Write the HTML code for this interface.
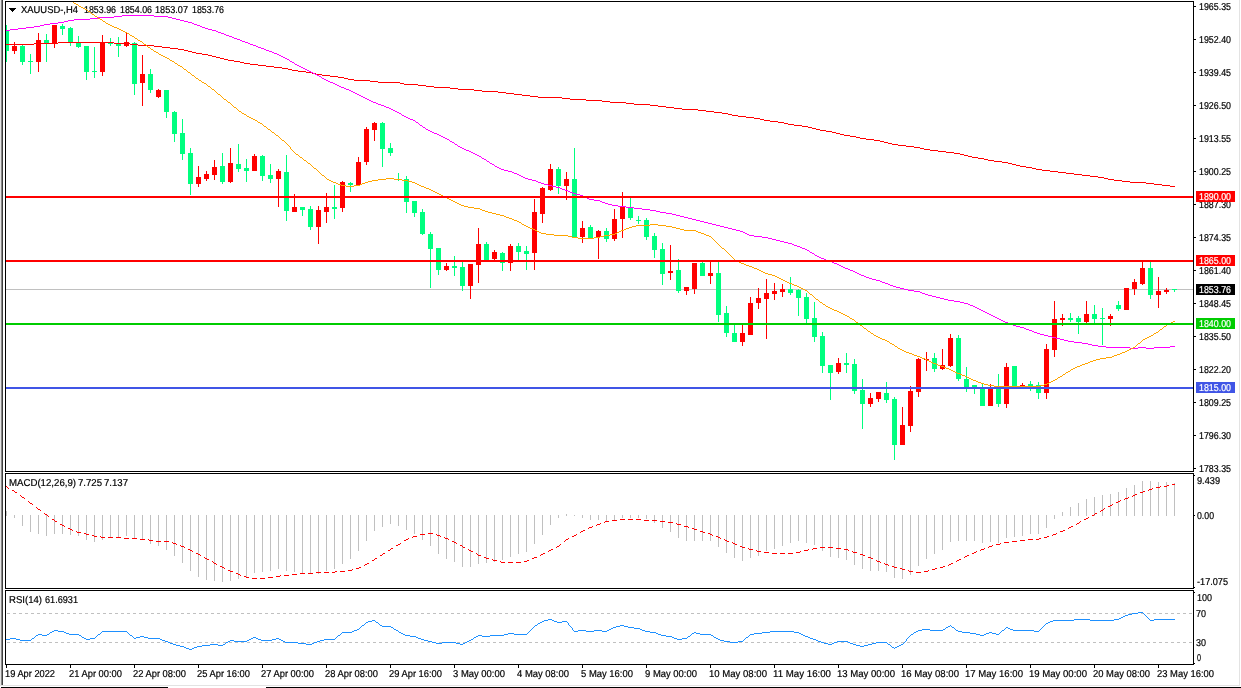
<!DOCTYPE html><html><head><meta charset="utf-8"><style>html,body{margin:0;padding:0;background:#fff;}svg{display:block;will-change:transform}text{font-family:"Liberation Sans",sans-serif;}</style></head><body>
<svg width="1241" height="688" viewBox="0 0 1241 688" shape-rendering="crispEdges">
<rect x="0" y="0" width="1241" height="688" fill="#fff"/>
<rect x="0" y="0" width="1" height="686" fill="#e6e6e6"/>
<rect x="1" y="0" width="1" height="685" fill="#888888"/>
<rect x="2" y="0" width="1" height="685" fill="#404040"/>
<rect x="1239" y="0" width="1" height="686" fill="#e3e3e3"/>
<rect x="0" y="685" width="1240" height="1" fill="#e3e3e3"/>
<rect x="1" y="687" width="167" height="1" fill="#000"/>
<rect x="266" y="687" width="975" height="1" fill="#000"/>
<defs><clipPath id="cm"><rect x="6" y="2" width="1187" height="469"/></clipPath><clipPath id="cd"><rect x="6" y="474" width="1187" height="114"/></clipPath><clipPath id="cr"><rect x="6" y="591" width="1187" height="73"/></clipPath></defs>
<g shape-rendering="auto">
<text x="21.00" y="13" font-size="10" textLength="57.00" lengthAdjust="spacingAndGlyphs" fill="#000" stroke="#000" stroke-width="0.2" text-rendering="geometricPrecision">XAUUSD-,H4</text>
<text x="84.00" y="13" font-size="10" textLength="32.00" lengthAdjust="spacingAndGlyphs" fill="#000" stroke="#000" stroke-width="0.2" text-rendering="geometricPrecision">1853.96</text>
<text x="120.00" y="13" font-size="10" textLength="32.00" lengthAdjust="spacingAndGlyphs" fill="#000" stroke="#000" stroke-width="0.2" text-rendering="geometricPrecision">1854.06</text>
<text x="155.00" y="13" font-size="10" textLength="33.00" lengthAdjust="spacingAndGlyphs" fill="#000" stroke="#000" stroke-width="0.2" text-rendering="geometricPrecision">1853.07</text>
<text x="192.00" y="13" font-size="10" textLength="32.00" lengthAdjust="spacingAndGlyphs" fill="#000" stroke="#000" stroke-width="0.2" text-rendering="geometricPrecision">1853.76</text>
</g>
<g clip-path="url(#cm)">
<rect x="6" y="289" width="1187" height="1" fill="#c0c0c0"/>
<rect x="6" y="25" width="1" height="37" fill="#00ff7f"/>
<rect x="4" y="31" width="5" height="20" fill="#00ff7f"/>
<rect x="14" y="42" width="1" height="12" fill="#ff0000"/>
<rect x="12" y="46" width="5" height="5" fill="#ff0000"/>
<rect x="22" y="45" width="1" height="20" fill="#00ff7f"/>
<rect x="20" y="46" width="5" height="16" fill="#00ff7f"/>
<rect x="30" y="54" width="1" height="20" fill="#00ff7f"/>
<rect x="28" y="61" width="5" height="1" fill="#00ff7f"/>
<rect x="38" y="33" width="1" height="39" fill="#ff0000"/>
<rect x="36" y="40" width="5" height="22" fill="#ff0000"/>
<rect x="46" y="34" width="1" height="28" fill="#00ff7f"/>
<rect x="44" y="40" width="5" height="3" fill="#00ff7f"/>
<rect x="54" y="25" width="1" height="23" fill="#ff0000"/>
<rect x="52" y="25" width="5" height="18" fill="#ff0000"/>
<rect x="62" y="24" width="1" height="11" fill="#00ff7f"/>
<rect x="60" y="26" width="5" height="3" fill="#00ff7f"/>
<rect x="70" y="27" width="1" height="19" fill="#00ff7f"/>
<rect x="68" y="28" width="5" height="14" fill="#00ff7f"/>
<rect x="78" y="36" width="1" height="12" fill="#00ff7f"/>
<rect x="76" y="43" width="5" height="4" fill="#00ff7f"/>
<rect x="86" y="46" width="1" height="34" fill="#00ff7f"/>
<rect x="84" y="46" width="5" height="26" fill="#00ff7f"/>
<rect x="94" y="47" width="1" height="31" fill="#00ff7f"/>
<rect x="92" y="71" width="5" height="1" fill="#00ff7f"/>
<rect x="102" y="35" width="1" height="41" fill="#ff0000"/>
<rect x="100" y="42" width="5" height="30" fill="#ff0000"/>
<rect x="110" y="38" width="1" height="8" fill="#00ff7f"/>
<rect x="108" y="43" width="5" height="1" fill="#00ff7f"/>
<rect x="118" y="37" width="1" height="20" fill="#00ff7f"/>
<rect x="116" y="43" width="5" height="3" fill="#00ff7f"/>
<rect x="126" y="33" width="1" height="14" fill="#ff0000"/>
<rect x="124" y="42" width="5" height="4" fill="#ff0000"/>
<rect x="134" y="42" width="1" height="53" fill="#00ff7f"/>
<rect x="132" y="43" width="5" height="41" fill="#00ff7f"/>
<rect x="142" y="55" width="1" height="51" fill="#ff0000"/>
<rect x="140" y="74" width="5" height="9" fill="#ff0000"/>
<rect x="150" y="69" width="1" height="24" fill="#00ff7f"/>
<rect x="148" y="74" width="5" height="16" fill="#00ff7f"/>
<rect x="158" y="89" width="1" height="9" fill="#ff0000"/>
<rect x="156" y="90" width="5" height="7" fill="#ff0000"/>
<rect x="166" y="90" width="1" height="28" fill="#00ff7f"/>
<rect x="164" y="90" width="5" height="22" fill="#00ff7f"/>
<rect x="174" y="111" width="1" height="31" fill="#00ff7f"/>
<rect x="172" y="112" width="5" height="22" fill="#00ff7f"/>
<rect x="182" y="119" width="1" height="41" fill="#00ff7f"/>
<rect x="180" y="133" width="5" height="21" fill="#00ff7f"/>
<rect x="190" y="148" width="1" height="47" fill="#00ff7f"/>
<rect x="188" y="153" width="5" height="31" fill="#00ff7f"/>
<rect x="198" y="166" width="1" height="21" fill="#ff0000"/>
<rect x="196" y="177" width="5" height="7" fill="#ff0000"/>
<rect x="206" y="171" width="1" height="10" fill="#ff0000"/>
<rect x="204" y="174" width="5" height="5" fill="#ff0000"/>
<rect x="214" y="160" width="1" height="20" fill="#ff0000"/>
<rect x="212" y="167" width="5" height="8" fill="#ff0000"/>
<rect x="222" y="153" width="1" height="31" fill="#00ff7f"/>
<rect x="220" y="166" width="5" height="16" fill="#00ff7f"/>
<rect x="230" y="148" width="1" height="35" fill="#ff0000"/>
<rect x="228" y="163" width="5" height="19" fill="#ff0000"/>
<rect x="238" y="144" width="1" height="28" fill="#00ff7f"/>
<rect x="236" y="164" width="5" height="5" fill="#00ff7f"/>
<rect x="246" y="159" width="1" height="23" fill="#00ff7f"/>
<rect x="244" y="168" width="5" height="3" fill="#00ff7f"/>
<rect x="254" y="154" width="1" height="17" fill="#ff0000"/>
<rect x="252" y="156" width="5" height="15" fill="#ff0000"/>
<rect x="262" y="155" width="1" height="26" fill="#00ff7f"/>
<rect x="260" y="156" width="5" height="20" fill="#00ff7f"/>
<rect x="270" y="164" width="1" height="19" fill="#00ff7f"/>
<rect x="268" y="175" width="5" height="4" fill="#00ff7f"/>
<rect x="278" y="169" width="1" height="38" fill="#ff0000"/>
<rect x="276" y="171" width="5" height="8" fill="#ff0000"/>
<rect x="286" y="155" width="1" height="66" fill="#00ff7f"/>
<rect x="284" y="172" width="5" height="39" fill="#00ff7f"/>
<rect x="294" y="194" width="1" height="18" fill="#ff0000"/>
<rect x="292" y="207" width="5" height="5" fill="#ff0000"/>
<rect x="302" y="207" width="1" height="9" fill="#00ff7f"/>
<rect x="300" y="207" width="5" height="3" fill="#00ff7f"/>
<rect x="310" y="206" width="1" height="24" fill="#00ff7f"/>
<rect x="308" y="209" width="5" height="18" fill="#00ff7f"/>
<rect x="318" y="206" width="1" height="38" fill="#ff0000"/>
<rect x="316" y="210" width="5" height="17" fill="#ff0000"/>
<rect x="326" y="193" width="1" height="30" fill="#ff0000"/>
<rect x="324" y="207" width="5" height="5" fill="#ff0000"/>
<rect x="334" y="185" width="1" height="34" fill="#00ff7f"/>
<rect x="332" y="207" width="5" height="2" fill="#00ff7f"/>
<rect x="342" y="181" width="1" height="31" fill="#ff0000"/>
<rect x="340" y="182" width="5" height="26" fill="#ff0000"/>
<rect x="350" y="182" width="1" height="10" fill="#00ff7f"/>
<rect x="348" y="183" width="5" height="2" fill="#00ff7f"/>
<rect x="358" y="157" width="1" height="29" fill="#ff0000"/>
<rect x="356" y="162" width="5" height="23" fill="#ff0000"/>
<rect x="366" y="127" width="1" height="38" fill="#ff0000"/>
<rect x="364" y="129" width="5" height="33" fill="#ff0000"/>
<rect x="374" y="122" width="1" height="19" fill="#ff0000"/>
<rect x="372" y="123" width="5" height="7" fill="#ff0000"/>
<rect x="382" y="122" width="1" height="45" fill="#00ff7f"/>
<rect x="380" y="123" width="5" height="26" fill="#00ff7f"/>
<rect x="390" y="143" width="1" height="13" fill="#00ff7f"/>
<rect x="388" y="148" width="5" height="5" fill="#00ff7f"/>
<rect x="398" y="173" width="1" height="8" fill="#00ff7f"/>
<rect x="396" y="179" width="5" height="1" fill="#00ff7f"/>
<rect x="406" y="176" width="1" height="37" fill="#00ff7f"/>
<rect x="404" y="179" width="5" height="23" fill="#00ff7f"/>
<rect x="414" y="201" width="1" height="16" fill="#00ff7f"/>
<rect x="412" y="201" width="5" height="12" fill="#00ff7f"/>
<rect x="422" y="209" width="1" height="26" fill="#00ff7f"/>
<rect x="420" y="212" width="5" height="22" fill="#00ff7f"/>
<rect x="430" y="232" width="1" height="56" fill="#00ff7f"/>
<rect x="428" y="234" width="5" height="15" fill="#00ff7f"/>
<rect x="438" y="248" width="1" height="27" fill="#00ff7f"/>
<rect x="436" y="248" width="5" height="22" fill="#00ff7f"/>
<rect x="446" y="263" width="1" height="8" fill="#ff0000"/>
<rect x="444" y="266" width="5" height="4" fill="#ff0000"/>
<rect x="454" y="256" width="1" height="20" fill="#00ff7f"/>
<rect x="452" y="266" width="5" height="2" fill="#00ff7f"/>
<rect x="462" y="262" width="1" height="29" fill="#00ff7f"/>
<rect x="460" y="267" width="5" height="19" fill="#00ff7f"/>
<rect x="470" y="264" width="1" height="35" fill="#ff0000"/>
<rect x="468" y="264" width="5" height="22" fill="#ff0000"/>
<rect x="478" y="228" width="1" height="55" fill="#ff0000"/>
<rect x="476" y="244" width="5" height="21" fill="#ff0000"/>
<rect x="486" y="242" width="1" height="18" fill="#00ff7f"/>
<rect x="484" y="244" width="5" height="16" fill="#00ff7f"/>
<rect x="494" y="250" width="1" height="10" fill="#ff0000"/>
<rect x="492" y="252" width="5" height="7" fill="#ff0000"/>
<rect x="502" y="252" width="1" height="19" fill="#00ff7f"/>
<rect x="500" y="253" width="5" height="10" fill="#00ff7f"/>
<rect x="510" y="244" width="1" height="27" fill="#ff0000"/>
<rect x="508" y="246" width="5" height="17" fill="#ff0000"/>
<rect x="518" y="243" width="1" height="17" fill="#00ff7f"/>
<rect x="516" y="246" width="5" height="6" fill="#00ff7f"/>
<rect x="526" y="246" width="1" height="24" fill="#00ff7f"/>
<rect x="524" y="251" width="5" height="3" fill="#00ff7f"/>
<rect x="534" y="199" width="1" height="71" fill="#ff0000"/>
<rect x="532" y="212" width="5" height="41" fill="#ff0000"/>
<rect x="542" y="187" width="1" height="36" fill="#ff0000"/>
<rect x="540" y="188" width="5" height="26" fill="#ff0000"/>
<rect x="550" y="164" width="1" height="27" fill="#ff0000"/>
<rect x="548" y="169" width="5" height="21" fill="#ff0000"/>
<rect x="558" y="167" width="1" height="27" fill="#00ff7f"/>
<rect x="556" y="169" width="5" height="17" fill="#00ff7f"/>
<rect x="566" y="172" width="1" height="28" fill="#ff0000"/>
<rect x="564" y="179" width="5" height="7" fill="#ff0000"/>
<rect x="574" y="148" width="1" height="90" fill="#00ff7f"/>
<rect x="572" y="179" width="5" height="58" fill="#00ff7f"/>
<rect x="582" y="221" width="1" height="22" fill="#ff0000"/>
<rect x="580" y="228" width="5" height="9" fill="#ff0000"/>
<rect x="590" y="225" width="1" height="13" fill="#00ff7f"/>
<rect x="588" y="227" width="5" height="11" fill="#00ff7f"/>
<rect x="598" y="230" width="1" height="29" fill="#ff0000"/>
<rect x="596" y="231" width="5" height="6" fill="#ff0000"/>
<rect x="606" y="228" width="1" height="14" fill="#00ff7f"/>
<rect x="604" y="231" width="5" height="8" fill="#00ff7f"/>
<rect x="614" y="209" width="1" height="32" fill="#ff0000"/>
<rect x="612" y="219" width="5" height="20" fill="#ff0000"/>
<rect x="622" y="192" width="1" height="46" fill="#ff0000"/>
<rect x="620" y="207" width="5" height="12" fill="#ff0000"/>
<rect x="630" y="198" width="1" height="22" fill="#00ff7f"/>
<rect x="628" y="207" width="5" height="11" fill="#00ff7f"/>
<rect x="638" y="216" width="1" height="8" fill="#00ff7f"/>
<rect x="636" y="220" width="5" height="1" fill="#00ff7f"/>
<rect x="646" y="218" width="1" height="22" fill="#00ff7f"/>
<rect x="644" y="220" width="5" height="17" fill="#00ff7f"/>
<rect x="654" y="233" width="1" height="25" fill="#00ff7f"/>
<rect x="652" y="236" width="5" height="14" fill="#00ff7f"/>
<rect x="662" y="243" width="1" height="42" fill="#00ff7f"/>
<rect x="660" y="249" width="5" height="25" fill="#00ff7f"/>
<rect x="670" y="245" width="1" height="35" fill="#ff0000"/>
<rect x="668" y="271" width="5" height="2" fill="#ff0000"/>
<rect x="678" y="259" width="1" height="34" fill="#00ff7f"/>
<rect x="676" y="270" width="5" height="21" fill="#00ff7f"/>
<rect x="686" y="287" width="1" height="8" fill="#ff0000"/>
<rect x="684" y="287" width="5" height="4" fill="#ff0000"/>
<rect x="694" y="263" width="1" height="31" fill="#ff0000"/>
<rect x="692" y="263" width="5" height="26" fill="#ff0000"/>
<rect x="702" y="262" width="1" height="14" fill="#00ff7f"/>
<rect x="700" y="263" width="5" height="13" fill="#00ff7f"/>
<rect x="710" y="261" width="1" height="23" fill="#ff0000"/>
<rect x="708" y="273" width="5" height="3" fill="#ff0000"/>
<rect x="718" y="262" width="1" height="60" fill="#00ff7f"/>
<rect x="716" y="273" width="5" height="42" fill="#00ff7f"/>
<rect x="726" y="306" width="1" height="31" fill="#00ff7f"/>
<rect x="724" y="313" width="5" height="20" fill="#00ff7f"/>
<rect x="734" y="325" width="1" height="17" fill="#00ff7f"/>
<rect x="732" y="333" width="5" height="9" fill="#00ff7f"/>
<rect x="742" y="325" width="1" height="21" fill="#ff0000"/>
<rect x="740" y="333" width="5" height="9" fill="#ff0000"/>
<rect x="750" y="297" width="1" height="38" fill="#ff0000"/>
<rect x="748" y="303" width="5" height="32" fill="#ff0000"/>
<rect x="758" y="288" width="1" height="21" fill="#ff0000"/>
<rect x="756" y="298" width="5" height="5" fill="#ff0000"/>
<rect x="766" y="279" width="1" height="60" fill="#ff0000"/>
<rect x="764" y="293" width="5" height="6" fill="#ff0000"/>
<rect x="774" y="283" width="1" height="17" fill="#ff0000"/>
<rect x="772" y="291" width="5" height="3" fill="#ff0000"/>
<rect x="782" y="284" width="1" height="13" fill="#ff0000"/>
<rect x="780" y="289" width="5" height="3" fill="#ff0000"/>
<rect x="790" y="277" width="1" height="18" fill="#00ff7f"/>
<rect x="788" y="289" width="5" height="4" fill="#00ff7f"/>
<rect x="798" y="289" width="1" height="27" fill="#00ff7f"/>
<rect x="796" y="290" width="5" height="8" fill="#00ff7f"/>
<rect x="806" y="293" width="1" height="30" fill="#00ff7f"/>
<rect x="804" y="297" width="5" height="22" fill="#00ff7f"/>
<rect x="814" y="302" width="1" height="40" fill="#00ff7f"/>
<rect x="812" y="318" width="5" height="19" fill="#00ff7f"/>
<rect x="822" y="332" width="1" height="41" fill="#00ff7f"/>
<rect x="820" y="336" width="5" height="30" fill="#00ff7f"/>
<rect x="830" y="365" width="1" height="35" fill="#00ff7f"/>
<rect x="828" y="365" width="5" height="8" fill="#00ff7f"/>
<rect x="838" y="358" width="1" height="16" fill="#ff0000"/>
<rect x="836" y="363" width="5" height="9" fill="#ff0000"/>
<rect x="846" y="353" width="1" height="20" fill="#00ff7f"/>
<rect x="844" y="363" width="5" height="2" fill="#00ff7f"/>
<rect x="854" y="359" width="1" height="35" fill="#00ff7f"/>
<rect x="852" y="364" width="5" height="27" fill="#00ff7f"/>
<rect x="862" y="379" width="1" height="50" fill="#00ff7f"/>
<rect x="860" y="390" width="5" height="14" fill="#00ff7f"/>
<rect x="870" y="393" width="1" height="14" fill="#ff0000"/>
<rect x="868" y="398" width="5" height="6" fill="#ff0000"/>
<rect x="878" y="392" width="1" height="10" fill="#ff0000"/>
<rect x="876" y="392" width="5" height="7" fill="#ff0000"/>
<rect x="886" y="382" width="1" height="21" fill="#00ff7f"/>
<rect x="884" y="393" width="5" height="7" fill="#00ff7f"/>
<rect x="894" y="397" width="1" height="63" fill="#00ff7f"/>
<rect x="892" y="399" width="5" height="46" fill="#00ff7f"/>
<rect x="902" y="407" width="1" height="38" fill="#ff0000"/>
<rect x="900" y="425" width="5" height="20" fill="#ff0000"/>
<rect x="910" y="386" width="1" height="46" fill="#ff0000"/>
<rect x="908" y="391" width="5" height="35" fill="#ff0000"/>
<rect x="918" y="358" width="1" height="39" fill="#ff0000"/>
<rect x="916" y="359" width="5" height="33" fill="#ff0000"/>
<rect x="926" y="352" width="1" height="19" fill="#ff0000"/>
<rect x="924" y="359" width="5" height="1" fill="#ff0000"/>
<rect x="934" y="353" width="1" height="19" fill="#00ff7f"/>
<rect x="932" y="358" width="5" height="11" fill="#00ff7f"/>
<rect x="942" y="349" width="1" height="21" fill="#ff0000"/>
<rect x="940" y="365" width="5" height="4" fill="#ff0000"/>
<rect x="950" y="334" width="1" height="33" fill="#ff0000"/>
<rect x="948" y="338" width="5" height="28" fill="#ff0000"/>
<rect x="958" y="335" width="1" height="46" fill="#00ff7f"/>
<rect x="956" y="338" width="5" height="41" fill="#00ff7f"/>
<rect x="966" y="367" width="1" height="25" fill="#00ff7f"/>
<rect x="964" y="379" width="5" height="8" fill="#00ff7f"/>
<rect x="974" y="385" width="1" height="9" fill="#00ff7f"/>
<rect x="972" y="385" width="5" height="4" fill="#00ff7f"/>
<rect x="982" y="383" width="1" height="23" fill="#00ff7f"/>
<rect x="980" y="387" width="5" height="19" fill="#00ff7f"/>
<rect x="990" y="384" width="1" height="22" fill="#ff0000"/>
<rect x="988" y="387" width="5" height="19" fill="#ff0000"/>
<rect x="998" y="374" width="1" height="33" fill="#00ff7f"/>
<rect x="996" y="387" width="5" height="17" fill="#00ff7f"/>
<rect x="1006" y="363" width="1" height="45" fill="#ff0000"/>
<rect x="1004" y="367" width="5" height="37" fill="#ff0000"/>
<rect x="1014" y="366" width="1" height="21" fill="#00ff7f"/>
<rect x="1012" y="366" width="5" height="20" fill="#00ff7f"/>
<rect x="1022" y="383" width="1" height="4" fill="#ff0000"/>
<rect x="1020" y="385" width="5" height="1" fill="#ff0000"/>
<rect x="1030" y="381" width="1" height="10" fill="#00ff7f"/>
<rect x="1028" y="384" width="5" height="2" fill="#00ff7f"/>
<rect x="1038" y="382" width="1" height="17" fill="#00ff7f"/>
<rect x="1036" y="385" width="5" height="8" fill="#00ff7f"/>
<rect x="1046" y="344" width="1" height="55" fill="#ff0000"/>
<rect x="1044" y="349" width="5" height="44" fill="#ff0000"/>
<rect x="1054" y="301" width="1" height="56" fill="#ff0000"/>
<rect x="1052" y="319" width="5" height="31" fill="#ff0000"/>
<rect x="1062" y="314" width="1" height="12" fill="#ff0000"/>
<rect x="1060" y="318" width="5" height="2" fill="#ff0000"/>
<rect x="1070" y="313" width="1" height="9" fill="#00ff7f"/>
<rect x="1068" y="318" width="5" height="2" fill="#00ff7f"/>
<rect x="1078" y="316" width="1" height="18" fill="#00ff7f"/>
<rect x="1076" y="318" width="5" height="4" fill="#00ff7f"/>
<rect x="1086" y="301" width="1" height="22" fill="#ff0000"/>
<rect x="1084" y="314" width="5" height="8" fill="#ff0000"/>
<rect x="1094" y="305" width="1" height="18" fill="#00ff7f"/>
<rect x="1092" y="314" width="5" height="5" fill="#00ff7f"/>
<rect x="1102" y="308" width="1" height="37" fill="#00ff7f"/>
<rect x="1100" y="318" width="5" height="1" fill="#00ff7f"/>
<rect x="1110" y="314" width="1" height="12" fill="#ff0000"/>
<rect x="1108" y="316" width="5" height="3" fill="#ff0000"/>
<rect x="1118" y="301" width="1" height="10" fill="#00ff7f"/>
<rect x="1116" y="305" width="5" height="4" fill="#00ff7f"/>
<rect x="1126" y="288" width="1" height="22" fill="#ff0000"/>
<rect x="1124" y="288" width="5" height="22" fill="#ff0000"/>
<rect x="1134" y="279" width="1" height="16" fill="#ff0000"/>
<rect x="1132" y="282" width="5" height="7" fill="#ff0000"/>
<rect x="1142" y="261" width="1" height="24" fill="#ff0000"/>
<rect x="1140" y="268" width="5" height="16" fill="#ff0000"/>
<rect x="1150" y="261" width="1" height="38" fill="#00ff7f"/>
<rect x="1148" y="268" width="5" height="27" fill="#00ff7f"/>
<rect x="1158" y="277" width="1" height="31" fill="#ff0000"/>
<rect x="1156" y="291" width="5" height="4" fill="#ff0000"/>
<rect x="1166" y="288" width="1" height="6" fill="#ff0000"/>
<rect x="1164" y="290" width="5" height="2" fill="#ff0000"/>
<rect x="1174" y="289" width="1" height="3" fill="#00ff7f"/>
<rect x="1172" y="289" width="5" height="1" fill="#00ff7f"/>
<path d="M6,44h28v1h-28zM130,44h8v1h-8zM34,43h24v1h-24zM114,43h16v1h-16zM58,42h56v1h-56zM138,45h16v1h-16zM154,46h8v1h-8zM162,47h8v1h-8zM170,48h8v1h-8zM178,49h6v1h-6zM184,50h4v1h-4zM188,51h4v1h-4zM192,52h4v1h-4zM196,53h6v1h-6zM202,54h6v1h-6zM208,55h4v1h-4zM212,56h4v1h-4zM216,57h4v1h-4zM220,58h4v1h-4zM224,59h4v1h-4zM228,60h6v1h-6zM234,61h6v1h-6zM240,62h4v1h-4zM244,63h6v1h-6zM250,64h8v1h-8zM258,65h8v1h-8zM266,66h8v1h-8zM274,67h8v1h-8zM282,68h6v1h-6zM288,69h4v1h-4zM292,70h6v1h-6zM298,71h8v1h-8zM306,72h6v1h-6zM312,73h4v1h-4zM316,74h6v1h-6zM322,75h8v1h-8zM330,76h8v1h-8zM338,77h6v1h-6zM344,78h4v1h-4zM348,79h6v1h-6zM354,80h16v1h-16zM370,81h8v1h-8zM378,82h22v1h-22zM400,83h4v1h-4zM404,84h14v1h-14zM418,85h8v1h-8zM426,86h8v1h-8zM434,87h16v1h-16zM450,88h8v1h-8zM458,89h16v1h-16zM474,90h8v1h-8zM482,91h16v1h-16zM498,92h8v1h-8zM506,93h8v1h-8zM514,94h8v1h-8zM522,95h8v1h-8zM530,96h8v1h-8zM538,97h24v1h-24zM562,98h8v1h-8zM570,99h16v1h-16zM586,100h16v1h-16zM602,101h8v1h-8zM610,102h16v1h-16zM626,103h8v1h-8zM634,104h16v1h-16zM650,105h8v1h-8zM658,106h8v1h-8zM666,107h8v1h-8zM674,108h8v1h-8zM682,109h16v1h-16zM698,110h8v1h-8zM706,111h8v1h-8zM714,112h8v1h-8zM722,113h6v1h-6zM728,114h4v1h-4zM732,115h6v1h-6zM738,116h8v1h-8zM746,117h8v1h-8zM754,118h6v1h-6zM760,119h4v1h-4zM764,120h6v1h-6zM770,121h8v1h-8zM778,122h6v1h-6zM784,123h4v1h-4zM788,124h6v1h-6zM794,125h8v1h-8zM802,126h6v1h-6zM808,127h4v1h-4zM812,128h4v1h-4zM816,129h4v1h-4zM820,130h6v1h-6zM826,131h6v1h-6zM832,132h4v1h-4zM836,133h4v1h-4zM840,134h4v1h-4zM844,135h6v1h-6zM850,136h6v1h-6zM856,137h4v1h-4zM860,138h6v1h-6zM866,139h8v1h-8zM874,140h6v1h-6zM880,141h4v1h-4zM884,142h4v1h-4zM888,143h4v1h-4zM892,144h6v1h-6zM898,145h8v1h-8zM906,146h8v1h-8zM914,147h6v1h-6zM920,148h4v1h-4zM924,149h6v1h-6zM930,150h8v1h-8zM938,151h8v1h-8zM946,152h8v1h-8zM954,153h6v1h-6zM960,154h4v1h-4zM964,155h4v1h-4zM968,156h4v1h-4zM972,157h6v1h-6zM978,158h6v1h-6zM984,159h4v1h-4zM988,160h6v1h-6zM994,161h8v1h-8zM1002,162h6v1h-6zM1008,163h4v1h-4zM1012,164h4v1h-4zM1016,165h4v1h-4zM1020,166h6v1h-6zM1026,167h6v1h-6zM1032,168h4v1h-4zM1036,169h6v1h-6zM1042,170h8v1h-8zM1050,171h8v1h-8zM1058,172h8v1h-8zM1066,173h8v1h-8zM1074,174h8v1h-8zM1082,175h8v1h-8zM1090,176h8v1h-8zM1098,177h6v1h-6zM1104,178h4v1h-4zM1108,179h6v1h-6zM1114,180h8v1h-8zM1122,181h8v1h-8zM1130,182h16v1h-16zM1146,183h8v1h-8zM1154,184h8v1h-8zM1162,185h8v1h-8zM1170,186h5v1h-5z" fill="#ff0000"/>
<path d="M6,30h4v1h-4zM212,30h4v1h-4zM10,29h8v1h-8zM208,29h4v1h-4zM18,28h8v1h-8zM205,28h3v1h-3zM26,27h8v1h-8zM202,27h3v1h-3zM34,26h6v1h-6zM200,26h2v1h-2zM40,25h4v1h-4zM197,25h3v1h-3zM44,24h6v1h-6zM194,24h3v1h-3zM50,23h8v1h-8zM192,23h2v1h-2zM58,22h6v1h-6zM188,22h4v1h-4zM64,21h4v1h-4zM184,21h4v1h-4zM68,20h6v1h-6zM180,20h4v1h-4zM74,19h16v1h-16zM176,19h4v1h-4zM90,18h8v1h-8zM172,18h4v1h-4zM98,17h16v1h-16zM168,17h4v1h-4zM114,16h8v1h-8zM154,16h14v1h-14zM122,15h32v1h-32zM216,31h2v1h-2zM218,32h3v1h-3zM221,33h3v1h-3zM224,34h2v1h-2zM226,35h3v1h-3zM229,36h3v1h-3zM232,37h2v1h-2zM234,38h3v1h-3zM237,39h3v1h-3zM240,40h2v1h-2zM242,41h3v1h-3zM245,42h3v1h-3zM248,43h2v1h-2zM250,44h3v1h-3zM253,45h3v1h-3zM256,46h2v1h-2zM258,47h3v1h-3zM261,48h3v1h-3zM264,49h2v1h-2zM266,50h3v1h-3zM269,51h3v1h-3zM272,52h2v1h-2zM274,53h3v1h-3zM277,54h2v1h-2zM279,55h2v1h-2zM281,56h2v1h-2zM283,57h2v1h-2zM285,58h2v1h-2zM287,59h2v1h-2zM289,60h1v1h-1zM290,61h2v1h-2zM292,62h2v1h-2zM294,63h1v1h-1zM295,64h2v1h-2zM297,65h2v1h-2zM299,66h2v1h-2zM301,67h2v1h-2zM303,68h2v1h-2zM305,69h2v1h-2zM307,70h2v1h-2zM309,71h2v1h-2zM311,72h2v1h-2zM313,73h2v1h-2zM315,74h2v1h-2zM317,75h2v1h-2zM319,76h2v1h-2zM321,77h1v1h-1zM322,78h2v1h-2zM324,79h2v1h-2zM326,80h2v1h-2zM328,81h2v1h-2zM330,82h3v1h-3zM333,83h2v1h-2zM335,84h2v1h-2zM337,85h2v1h-2zM339,86h2v1h-2zM341,87h3v1h-3zM344,88h2v1h-2zM346,89h3v1h-3zM349,90h2v1h-2zM351,91h2v1h-2zM353,92h2v1h-2zM355,93h2v1h-2zM357,94h2v1h-2zM359,95h2v1h-2zM361,96h2v1h-2zM363,97h2v1h-2zM365,98h2v1h-2zM367,99h2v1h-2zM369,100h2v1h-2zM371,101h2v1h-2zM373,102h3v1h-3zM376,103h2v1h-2zM378,104h3v1h-3zM381,105h3v1h-3zM384,106h2v1h-2zM386,107h3v1h-3zM389,108h2v1h-2zM391,109h2v1h-2zM393,110h2v1h-2zM395,111h2v1h-2zM397,112h2v1h-2zM399,113h2v1h-2zM401,114h1v1h-1zM402,115h2v1h-2zM404,116h2v1h-2zM406,117h2v1h-2zM408,118h2v1h-2zM410,119h3v1h-3zM413,120h2v1h-2zM415,121h1v1h-1zM416,122h2v1h-2zM418,123h1v1h-1zM419,124h1v1h-1zM420,125h2v1h-2zM422,126h1v1h-1zM423,127h2v1h-2zM425,128h1v1h-1zM426,129h2v1h-2zM428,130h2v1h-2zM430,131h2v1h-2zM432,132h2v1h-2zM434,133h3v1h-3zM437,134h2v1h-2zM439,135h2v1h-2zM441,136h2v1h-2zM443,137h2v1h-2zM445,138h2v1h-2zM447,139h2v1h-2zM449,140h1v1h-1zM450,141h2v1h-2zM452,142h2v1h-2zM454,143h1v1h-1zM455,144h2v1h-2zM457,145h1v1h-1zM458,146h2v1h-2zM460,147h2v1h-2zM462,148h2v1h-2zM464,149h2v1h-2zM466,150h3v1h-3zM469,151h2v1h-2zM471,152h2v1h-2zM473,153h2v1h-2zM475,154h2v1h-2zM477,155h2v1h-2zM479,156h2v1h-2zM481,157h1v1h-1zM482,158h2v1h-2zM484,159h2v1h-2zM486,160h1v1h-1zM487,161h2v1h-2zM489,162h1v1h-1zM490,163h2v1h-2zM492,164h2v1h-2zM494,165h1v1h-1zM495,166h2v1h-2zM497,167h2v1h-2zM499,168h2v1h-2zM501,169h3v1h-3zM504,170h4v1h-4zM508,171h4v1h-4zM512,172h2v1h-2zM514,173h3v1h-3zM517,174h2v1h-2zM519,175h2v1h-2zM521,176h2v1h-2zM523,177h2v1h-2zM525,178h3v1h-3zM528,179h4v1h-4zM532,180h4v1h-4zM536,181h2v1h-2zM538,182h3v1h-3zM541,183h3v1h-3zM544,184h4v1h-4zM548,185h4v1h-4zM552,186h4v1h-4zM556,187h4v1h-4zM560,188h2v1h-2zM562,189h3v1h-3zM565,190h3v1h-3zM568,191h2v1h-2zM570,192h3v1h-3zM573,193h3v1h-3zM576,194h4v1h-4zM580,195h3v1h-3zM583,196h2v1h-2zM585,197h2v1h-2zM587,198h2v1h-2zM589,199h5v1h-5zM594,200h6v1h-6zM600,201h2v1h-2zM602,202h3v1h-3zM605,203h3v1h-3zM608,204h4v1h-4zM612,205h6v1h-6zM618,206h8v1h-8zM626,207h8v1h-8zM634,208h8v1h-8zM642,209h8v1h-8zM650,210h6v1h-6zM656,211h4v1h-4zM660,212h6v1h-6zM666,213h6v1h-6zM672,214h4v1h-4zM676,215h4v1h-4zM680,216h4v1h-4zM684,217h4v1h-4zM688,218h4v1h-4zM692,219h4v1h-4zM696,220h4v1h-4zM700,221h4v1h-4zM704,222h4v1h-4zM708,223h4v1h-4zM712,224h4v1h-4zM716,225h4v1h-4zM720,226h4v1h-4zM724,227h4v1h-4zM728,228h4v1h-4zM732,229h4v1h-4zM736,230h4v1h-4zM740,231h3v1h-3zM743,232h2v1h-2zM745,233h2v1h-2zM747,234h2v1h-2zM749,235h5v1h-5zM754,236h8v1h-8zM762,237h6v1h-6zM768,238h4v1h-4zM772,239h4v1h-4zM776,240h4v1h-4zM780,241h4v1h-4zM784,242h4v1h-4zM788,243h4v1h-4zM792,244h2v1h-2zM794,245h3v1h-3zM797,246h3v1h-3zM800,247h2v1h-2zM802,248h3v1h-3zM805,249h2v1h-2zM807,250h2v1h-2zM809,251h1v1h-1zM810,252h2v1h-2zM812,253h2v1h-2zM814,254h1v1h-1zM815,255h2v1h-2zM817,256h2v1h-2zM819,257h2v1h-2zM821,258h3v1h-3zM824,259h2v1h-2zM826,260h3v1h-3zM829,261h3v1h-3zM832,262h2v1h-2zM834,263h3v1h-3zM837,264h2v1h-2zM839,265h2v1h-2zM841,266h2v1h-2zM843,267h2v1h-2zM845,268h3v1h-3zM848,269h2v1h-2zM850,270h3v1h-3zM853,271h2v1h-2zM855,272h2v1h-2zM857,273h2v1h-2zM859,274h2v1h-2zM861,275h3v1h-3zM864,276h2v1h-2zM866,277h3v1h-3zM869,278h3v1h-3zM872,279h4v1h-4zM876,280h4v1h-4zM880,281h2v1h-2zM882,282h3v1h-3zM885,283h3v1h-3zM888,284h2v1h-2zM890,285h3v1h-3zM893,286h3v1h-3zM896,287h4v1h-4zM900,288h4v1h-4zM904,289h4v1h-4zM908,290h6v1h-6zM914,291h6v1h-6zM920,292h2v1h-2zM922,293h3v1h-3zM925,294h3v1h-3zM928,295h4v1h-4zM932,296h4v1h-4zM936,297h4v1h-4zM940,298h4v1h-4zM944,299h4v1h-4zM948,300h6v1h-6zM954,301h6v1h-6zM960,302h4v1h-4zM964,303h4v1h-4zM968,304h2v1h-2zM970,305h3v1h-3zM973,306h2v1h-2zM975,307h2v1h-2zM977,308h2v1h-2zM979,309h2v1h-2zM981,310h2v1h-2zM983,311h2v1h-2zM985,312h2v1h-2zM987,313h2v1h-2zM989,314h2v1h-2zM991,315h2v1h-2zM993,316h2v1h-2zM995,317h2v1h-2zM997,318h2v1h-2zM999,319h2v1h-2zM1001,320h2v1h-2zM1003,321h2v1h-2zM1005,322h3v1h-3zM1008,323h2v1h-2zM1010,324h3v1h-3zM1013,325h3v1h-3zM1016,326h4v1h-4zM1020,327h4v1h-4zM1024,328h2v1h-2zM1026,329h3v1h-3zM1029,330h3v1h-3zM1032,331h2v1h-2zM1034,332h3v1h-3zM1037,333h3v1h-3zM1040,334h4v1h-4zM1044,335h4v1h-4zM1048,336h4v1h-4zM1052,337h4v1h-4zM1056,338h4v1h-4zM1060,339h4v1h-4zM1064,340h4v1h-4zM1068,341h6v1h-6zM1074,342h8v1h-8zM1082,343h6v1h-6zM1088,344h4v1h-4zM1092,345h6v1h-6zM1098,346h8v1h-8zM1170,346h5v1h-5zM1106,347h24v1h-24zM1138,347h8v1h-8zM1154,347h16v1h-16zM1130,348h8v1h-8zM1146,348h8v1h-8z" fill="#ff00ff"/>
<path d="M54,-9h1v1h-1zM55,-8h2v1h-2zM57,-7h1v1h-1zM58,-6h2v1h-2zM60,-5h2v1h-2zM62,-4h1v1h-1zM63,-3h2v1h-2zM65,-2h2v1h-2zM67,-1h2v1h-2zM69,0h2v1h-2zM71,1h2v1h-2zM73,2h1v1h-1zM74,3h2v1h-2zM76,4h2v1h-2zM78,5h1v1h-1zM79,6h2v1h-2zM81,7h2v1h-2zM83,8h2v1h-2zM85,9h2v1h-2zM87,10h1v1h-1zM88,11h2v1h-2zM90,12h1v1h-1zM91,13h1v1h-1zM92,14h2v1h-2zM94,15h1v1h-1zM95,16h2v1h-2zM97,17h1v1h-1zM98,18h2v1h-2zM100,19h2v1h-2zM102,20h1v1h-1zM103,21h2v1h-2zM105,22h1v1h-1zM106,23h2v1h-2zM108,24h2v1h-2zM110,25h2v1h-2zM112,26h2v1h-2zM114,27h3v1h-3zM117,28h2v1h-2zM119,29h2v1h-2zM121,30h2v1h-2zM123,31h2v1h-2zM125,32h2v1h-2zM127,33h2v1h-2zM129,34h1v1h-1zM130,35h2v1h-2zM132,36h2v1h-2zM134,37h1v1h-1zM135,38h2v1h-2zM137,39h1v1h-1zM138,40h2v1h-2zM140,41h2v1h-2zM142,42h1v1h-1zM143,43h1v1h-1zM144,44h2v1h-2zM146,45h1v1h-1zM147,46h1v1h-1zM148,47h2v1h-2zM150,48h1v1h-1zM151,49h2v1h-2zM153,50h1v1h-1zM154,51h2v1h-2zM156,52h2v1h-2zM158,53h1v1h-1zM159,54h2v1h-2zM161,55h2v1h-2zM163,56h2v1h-2zM165,57h2v1h-2zM167,58h2v1h-2zM169,59h1v1h-1zM170,60h2v1h-2zM172,61h2v1h-2zM174,62h1v1h-1zM175,63h2v1h-2zM177,64h1v1h-1zM178,65h2v1h-2zM180,66h2v1h-2zM182,67h1v1h-1zM183,68h1v1h-1zM184,69h2v1h-2zM186,70h1v1h-1zM187,71h1v1h-1zM188,72h2v1h-2zM190,73h1v1h-1zM191,74h1v1h-1zM192,75h2v1h-2zM194,76h1v1h-1zM195,77h1v1h-1zM196,78h2v1h-2zM198,79h1v1h-1zM199,80h2v1h-2zM201,81h1v1h-1zM202,82h2v1h-2zM204,83h2v1h-2zM206,84h1v1h-1zM207,85h1v1h-1zM208,86h2v1h-2zM210,87h1v1h-1zM211,88h1v1h-1zM212,89h2v1h-2zM214,90h1v1h-1zM215,91h1v1h-1zM216,92h1v1h-1zM217,93h1v1h-1zM218,94h2v1h-2zM220,95h1v1h-1zM221,96h1v1h-1zM222,97h1v1h-1zM223,98h1v1h-1zM224,99h2v1h-2zM226,100h1v1h-1zM227,101h1v1h-1zM228,102h2v1h-2zM230,103h1v1h-1zM231,104h1v1h-1zM232,105h1v1h-1zM233,106h1v1h-1zM234,107h2v1h-2zM236,108h1v1h-1zM237,109h1v1h-1zM238,110h1v1h-1zM239,111h2v1h-2zM241,112h1v1h-1zM242,113h2v1h-2zM244,114h2v1h-2zM246,115h1v1h-1zM247,116h2v1h-2zM249,117h2v1h-2zM251,118h2v1h-2zM253,119h2v1h-2zM255,120h2v1h-2zM257,121h1v1h-1zM258,122h2v1h-2zM260,123h2v1h-2zM262,124h1v1h-1zM263,125h1v1h-1zM264,126h2v1h-2zM266,127h1v1h-1zM267,128h1v1h-1zM268,129h2v1h-2zM270,130h1v1h-1zM271,131h1v1h-1zM272,132h2v1h-2zM274,133h1v1h-1zM275,134h1v1h-1zM276,135h2v1h-2zM278,136h1v1h-1zM279,137h1v1h-1zM280,138h1v1h-1zM281,139h1v1h-1zM282,140h2v1h-2zM284,141h1v1h-1zM285,142h1v1h-1zM286,143h1v1h-1zM287,144h1v1h-1zM288,145h1v1h-1zM289,146h1v1h-1zM290,147h1v1h-1zM290,148h1v1h-1zM291,149h1v1h-1zM292,150h1v1h-1zM293,151h1v1h-1zM294,152h1v1h-1zM295,153h1v1h-1zM296,154h2v1h-2zM298,155h1v1h-1zM299,156h1v1h-1zM300,157h2v1h-2zM302,158h1v1h-1zM303,159h1v1h-1zM304,160h2v1h-2zM306,161h1v1h-1zM307,162h1v1h-1zM308,163h2v1h-2zM310,164h1v1h-1zM311,165h1v1h-1zM312,166h1v1h-1zM313,167h1v1h-1zM314,168h2v1h-2zM316,169h1v1h-1zM317,170h1v1h-1zM318,171h1v1h-1zM319,172h1v1h-1zM320,173h1v1h-1zM321,174h1v1h-1zM322,175h2v1h-2zM324,176h1v1h-1zM325,177h1v1h-1zM326,178h1v1h-1zM386,178h8v1h-8zM327,179h2v1h-2zM378,179h8v1h-8zM394,179h8v1h-8zM329,180h2v1h-2zM372,180h6v1h-6zM402,180h6v1h-6zM331,181h2v1h-2zM368,181h4v1h-4zM408,181h4v1h-4zM333,182h3v1h-3zM365,182h3v1h-3zM412,182h3v1h-3zM336,183h2v1h-2zM362,183h3v1h-3zM415,183h2v1h-2zM338,184h3v1h-3zM360,184h2v1h-2zM417,184h2v1h-2zM341,185h5v1h-5zM354,185h6v1h-6zM419,185h2v1h-2zM346,186h8v1h-8zM421,186h3v1h-3zM424,187h2v1h-2zM426,188h3v1h-3zM429,189h2v1h-2zM431,190h2v1h-2zM433,191h2v1h-2zM435,192h2v1h-2zM437,193h2v1h-2zM439,194h2v1h-2zM441,195h2v1h-2zM443,196h2v1h-2zM445,197h2v1h-2zM447,198h2v1h-2zM449,199h2v1h-2zM451,200h2v1h-2zM453,201h2v1h-2zM455,202h2v1h-2zM457,203h2v1h-2zM459,204h2v1h-2zM461,205h3v1h-3zM464,206h4v1h-4zM468,207h6v1h-6zM474,208h6v1h-6zM480,209h2v1h-2zM482,210h3v1h-3zM485,211h3v1h-3zM488,212h4v1h-4zM492,213h4v1h-4zM496,214h4v1h-4zM500,215h4v1h-4zM504,216h2v1h-2zM506,217h3v1h-3zM509,218h3v1h-3zM512,219h2v1h-2zM514,220h3v1h-3zM517,221h2v1h-2zM519,222h2v1h-2zM521,223h1v1h-1zM522,224h2v1h-2zM650,224h8v1h-8zM524,225h2v1h-2zM636,225h14v1h-14zM658,225h8v1h-8zM526,226h2v1h-2zM632,226h4v1h-4zM666,226h6v1h-6zM528,227h2v1h-2zM629,227h3v1h-3zM672,227h4v1h-4zM530,228h3v1h-3zM626,228h3v1h-3zM676,228h4v1h-4zM533,229h2v1h-2zM624,229h2v1h-2zM680,229h4v1h-4zM535,230h2v1h-2zM621,230h3v1h-3zM684,230h12v1h-12zM537,231h2v1h-2zM619,231h2v1h-2zM696,231h2v1h-2zM539,232h2v1h-2zM617,232h2v1h-2zM698,232h3v1h-3zM541,233h5v1h-5zM615,233h2v1h-2zM701,233h3v1h-3zM546,234h8v1h-8zM610,234h5v1h-5zM704,234h2v1h-2zM554,235h14v1h-14zM604,235h6v1h-6zM706,235h3v1h-3zM568,236h4v1h-4zM600,236h4v1h-4zM709,236h2v1h-2zM572,237h6v1h-6zM594,237h6v1h-6zM711,237h1v1h-1zM578,238h16v1h-16zM712,238h1v1h-1zM713,239h1v1h-1zM714,240h1v1h-1zM715,241h1v1h-1zM716,242h1v1h-1zM717,243h1v1h-1zM718,244h1v1h-1zM719,245h1v1h-1zM720,246h1v1h-1zM721,247h1v1h-1zM722,248h2v1h-2zM724,249h1v1h-1zM725,250h1v1h-1zM726,251h1v1h-1zM727,252h1v1h-1zM728,253h1v1h-1zM729,254h1v1h-1zM730,255h1v1h-1zM731,256h1v1h-1zM732,257h1v1h-1zM733,258h1v1h-1zM734,259h1v1h-1zM735,260h2v1h-2zM737,261h2v1h-2zM739,262h2v1h-2zM741,263h3v1h-3zM744,264h2v1h-2zM746,265h3v1h-3zM749,266h3v1h-3zM752,267h2v1h-2zM754,268h3v1h-3zM757,269h2v1h-2zM759,270h2v1h-2zM761,271h2v1h-2zM763,272h2v1h-2zM765,273h3v1h-3zM768,274h4v1h-4zM772,275h3v1h-3zM775,276h2v1h-2zM777,277h2v1h-2zM779,278h2v1h-2zM781,279h2v1h-2zM783,280h2v1h-2zM785,281h2v1h-2zM787,282h2v1h-2zM789,283h3v1h-3zM792,284h2v1h-2zM794,285h3v1h-3zM797,286h2v1h-2zM799,287h2v1h-2zM801,288h2v1h-2zM803,289h2v1h-2zM805,290h2v1h-2zM807,291h1v1h-1zM808,292h1v1h-1zM809,293h1v1h-1zM810,294h2v1h-2zM812,295h1v1h-1zM813,296h1v1h-1zM814,297h1v1h-1zM815,298h1v1h-1zM816,299h2v1h-2zM818,300h1v1h-1zM819,301h1v1h-1zM820,302h2v1h-2zM822,303h1v1h-1zM823,304h2v1h-2zM825,305h1v1h-1zM826,306h2v1h-2zM828,307h2v1h-2zM830,308h2v1h-2zM832,309h2v1h-2zM834,310h3v1h-3zM837,311h2v1h-2zM839,312h2v1h-2zM841,313h2v1h-2zM843,314h2v1h-2zM845,315h2v1h-2zM847,316h2v1h-2zM849,317h1v1h-1zM850,318h2v1h-2zM852,319h2v1h-2zM854,320h1v1h-1zM855,321h1v1h-1zM1173,321h2v1h-2zM856,322h2v1h-2zM1171,322h2v1h-2zM858,323h1v1h-1zM1169,323h2v1h-2zM859,324h1v1h-1zM1167,324h2v1h-2zM860,325h2v1h-2zM1166,325h1v1h-1zM862,326h1v1h-1zM1164,326h2v1h-2zM863,327h1v1h-1zM1163,327h1v1h-1zM864,328h2v1h-2zM1162,328h1v1h-1zM866,329h1v1h-1zM1160,329h2v1h-2zM867,330h1v1h-1zM1159,330h1v1h-1zM868,331h2v1h-2zM1158,331h1v1h-1zM870,332h1v1h-1zM1156,332h2v1h-2zM871,333h2v1h-2zM1154,333h2v1h-2zM873,334h1v1h-1zM1153,334h1v1h-1zM874,335h2v1h-2zM1151,335h2v1h-2zM876,336h2v1h-2zM1149,336h2v1h-2zM878,337h2v1h-2zM1147,337h2v1h-2zM880,338h2v1h-2zM1145,338h2v1h-2zM882,339h3v1h-3zM1143,339h2v1h-2zM885,340h2v1h-2zM1142,340h1v1h-1zM887,341h2v1h-2zM1141,341h1v1h-1zM889,342h1v1h-1zM1140,342h1v1h-1zM890,343h2v1h-2zM1138,343h2v1h-2zM892,344h2v1h-2zM1137,344h1v1h-1zM894,345h1v1h-1zM1136,345h1v1h-1zM895,346h2v1h-2zM1135,346h1v1h-1zM897,347h1v1h-1zM1133,347h2v1h-2zM898,348h2v1h-2zM1131,348h2v1h-2zM900,349h2v1h-2zM1129,349h2v1h-2zM902,350h2v1h-2zM1127,350h2v1h-2zM904,351h2v1h-2zM1125,351h2v1h-2zM906,352h3v1h-3zM1122,352h3v1h-3zM909,353h3v1h-3zM1120,353h2v1h-2zM912,354h2v1h-2zM1117,354h3v1h-3zM914,355h3v1h-3zM1114,355h3v1h-3zM917,356h3v1h-3zM1112,356h2v1h-2zM920,357h2v1h-2zM1106,357h6v1h-6zM922,358h3v1h-3zM1100,358h6v1h-6zM925,359h2v1h-2zM1096,359h4v1h-4zM927,360h2v1h-2zM1093,360h3v1h-3zM929,361h2v1h-2zM1090,361h3v1h-3zM931,362h2v1h-2zM1088,362h2v1h-2zM933,363h3v1h-3zM1085,363h3v1h-3zM936,364h2v1h-2zM1082,364h3v1h-3zM938,365h3v1h-3zM1080,365h2v1h-2zM941,366h3v1h-3zM1077,366h3v1h-3zM944,367h2v1h-2zM1075,367h2v1h-2zM946,368h3v1h-3zM1073,368h2v1h-2zM949,369h2v1h-2zM1071,369h2v1h-2zM951,370h2v1h-2zM1070,370h1v1h-1zM953,371h2v1h-2zM1068,371h2v1h-2zM955,372h2v1h-2zM1066,372h2v1h-2zM957,373h3v1h-3zM1065,373h1v1h-1zM960,374h2v1h-2zM1063,374h2v1h-2zM962,375h3v1h-3zM1062,375h1v1h-1zM965,376h2v1h-2zM1060,376h2v1h-2zM967,377h2v1h-2zM1058,377h2v1h-2zM969,378h2v1h-2zM1057,378h1v1h-1zM971,379h2v1h-2zM1055,379h2v1h-2zM973,380h3v1h-3zM1053,380h2v1h-2zM976,381h2v1h-2zM1051,381h2v1h-2zM978,382h3v1h-3zM1049,382h2v1h-2zM981,383h3v1h-3zM1047,383h2v1h-2zM984,384h4v1h-4zM1044,384h3v1h-3zM988,385h6v1h-6zM1040,385h4v1h-4zM994,386h46v1h-46z" fill="#ffa500"/>
<rect x="6" y="196" width="1187" height="2" fill="#ff0000"/>
<rect x="6" y="260" width="1187" height="2" fill="#ff0000"/>
<rect x="6" y="323" width="1187" height="2" fill="#00cc00"/>
<rect x="6" y="387" width="1187" height="2" fill="#4055e6"/>
</g>
<g clip-path="url(#cd)">
<rect x="6" y="511" width="1" height="5" fill="#c0c0c0"/>
<rect x="14" y="515" width="1" height="3" fill="#c0c0c0"/>
<rect x="22" y="515" width="1" height="11" fill="#c0c0c0"/>
<rect x="30" y="515" width="1" height="17" fill="#c0c0c0"/>
<rect x="38" y="515" width="1" height="19" fill="#c0c0c0"/>
<rect x="46" y="515" width="1" height="21" fill="#c0c0c0"/>
<rect x="54" y="515" width="1" height="19" fill="#c0c0c0"/>
<rect x="62" y="515" width="1" height="19" fill="#c0c0c0"/>
<rect x="70" y="515" width="1" height="20" fill="#c0c0c0"/>
<rect x="78" y="515" width="1" height="21" fill="#c0c0c0"/>
<rect x="86" y="515" width="1" height="25" fill="#c0c0c0"/>
<rect x="94" y="515" width="1" height="27" fill="#c0c0c0"/>
<rect x="102" y="515" width="1" height="25" fill="#c0c0c0"/>
<rect x="110" y="515" width="1" height="23" fill="#c0c0c0"/>
<rect x="118" y="515" width="1" height="22" fill="#c0c0c0"/>
<rect x="126" y="515" width="1" height="21" fill="#c0c0c0"/>
<rect x="134" y="515" width="1" height="23" fill="#c0c0c0"/>
<rect x="142" y="515" width="1" height="25" fill="#c0c0c0"/>
<rect x="150" y="515" width="1" height="29" fill="#c0c0c0"/>
<rect x="158" y="515" width="1" height="31" fill="#c0c0c0"/>
<rect x="166" y="515" width="1" height="35" fill="#c0c0c0"/>
<rect x="174" y="515" width="1" height="41" fill="#c0c0c0"/>
<rect x="182" y="515" width="1" height="48" fill="#c0c0c0"/>
<rect x="190" y="515" width="1" height="56" fill="#c0c0c0"/>
<rect x="198" y="515" width="1" height="62" fill="#c0c0c0"/>
<rect x="206" y="515" width="1" height="65" fill="#c0c0c0"/>
<rect x="214" y="515" width="1" height="66" fill="#c0c0c0"/>
<rect x="222" y="515" width="1" height="67" fill="#c0c0c0"/>
<rect x="230" y="515" width="1" height="66" fill="#c0c0c0"/>
<rect x="238" y="515" width="1" height="64" fill="#c0c0c0"/>
<rect x="246" y="515" width="1" height="63" fill="#c0c0c0"/>
<rect x="254" y="515" width="1" height="58" fill="#c0c0c0"/>
<rect x="262" y="515" width="1" height="57" fill="#c0c0c0"/>
<rect x="270" y="515" width="1" height="56" fill="#c0c0c0"/>
<rect x="278" y="515" width="1" height="54" fill="#c0c0c0"/>
<rect x="286" y="515" width="1" height="56" fill="#c0c0c0"/>
<rect x="294" y="515" width="1" height="57" fill="#c0c0c0"/>
<rect x="302" y="515" width="1" height="58" fill="#c0c0c0"/>
<rect x="310" y="515" width="1" height="59" fill="#c0c0c0"/>
<rect x="318" y="515" width="1" height="59" fill="#c0c0c0"/>
<rect x="326" y="515" width="1" height="56" fill="#c0c0c0"/>
<rect x="334" y="515" width="1" height="54" fill="#c0c0c0"/>
<rect x="342" y="515" width="1" height="49" fill="#c0c0c0"/>
<rect x="350" y="515" width="1" height="44" fill="#c0c0c0"/>
<rect x="358" y="515" width="1" height="36" fill="#c0c0c0"/>
<rect x="366" y="515" width="1" height="26" fill="#c0c0c0"/>
<rect x="374" y="515" width="1" height="16" fill="#c0c0c0"/>
<rect x="382" y="515" width="1" height="12" fill="#c0c0c0"/>
<rect x="390" y="515" width="1" height="9" fill="#c0c0c0"/>
<rect x="398" y="515" width="1" height="11" fill="#c0c0c0"/>
<rect x="406" y="515" width="1" height="15" fill="#c0c0c0"/>
<rect x="414" y="515" width="1" height="19" fill="#c0c0c0"/>
<rect x="422" y="515" width="1" height="25" fill="#c0c0c0"/>
<rect x="430" y="515" width="1" height="31" fill="#c0c0c0"/>
<rect x="438" y="515" width="1" height="39" fill="#c0c0c0"/>
<rect x="446" y="515" width="1" height="44" fill="#c0c0c0"/>
<rect x="454" y="515" width="1" height="47" fill="#c0c0c0"/>
<rect x="462" y="515" width="1" height="52" fill="#c0c0c0"/>
<rect x="470" y="515" width="1" height="52" fill="#c0c0c0"/>
<rect x="478" y="515" width="1" height="49" fill="#c0c0c0"/>
<rect x="486" y="515" width="1" height="48" fill="#c0c0c0"/>
<rect x="494" y="515" width="1" height="47" fill="#c0c0c0"/>
<rect x="502" y="515" width="1" height="45" fill="#c0c0c0"/>
<rect x="510" y="515" width="1" height="42" fill="#c0c0c0"/>
<rect x="518" y="515" width="1" height="39" fill="#c0c0c0"/>
<rect x="526" y="515" width="1" height="37" fill="#c0c0c0"/>
<rect x="534" y="515" width="1" height="29" fill="#c0c0c0"/>
<rect x="542" y="515" width="1" height="20" fill="#c0c0c0"/>
<rect x="550" y="515" width="1" height="10" fill="#c0c0c0"/>
<rect x="558" y="515" width="1" height="3" fill="#c0c0c0"/>
<rect x="566" y="514" width="1" height="2" fill="#c0c0c0"/>
<rect x="574" y="515" width="1" height="1" fill="#c0c0c0"/>
<rect x="582" y="515" width="1" height="3" fill="#c0c0c0"/>
<rect x="590" y="515" width="1" height="5" fill="#c0c0c0"/>
<rect x="598" y="515" width="1" height="5" fill="#c0c0c0"/>
<rect x="606" y="515" width="1" height="6" fill="#c0c0c0"/>
<rect x="614" y="515" width="1" height="6" fill="#c0c0c0"/>
<rect x="622" y="515" width="1" height="3" fill="#c0c0c0"/>
<rect x="630" y="515" width="1" height="3" fill="#c0c0c0"/>
<rect x="638" y="515" width="1" height="3" fill="#c0c0c0"/>
<rect x="646" y="515" width="1" height="4" fill="#c0c0c0"/>
<rect x="654" y="515" width="1" height="8" fill="#c0c0c0"/>
<rect x="662" y="515" width="1" height="13" fill="#c0c0c0"/>
<rect x="670" y="515" width="1" height="17" fill="#c0c0c0"/>
<rect x="678" y="515" width="1" height="23" fill="#c0c0c0"/>
<rect x="686" y="515" width="1" height="26" fill="#c0c0c0"/>
<rect x="694" y="515" width="1" height="26" fill="#c0c0c0"/>
<rect x="702" y="515" width="1" height="26" fill="#c0c0c0"/>
<rect x="710" y="515" width="1" height="26" fill="#c0c0c0"/>
<rect x="718" y="515" width="1" height="32" fill="#c0c0c0"/>
<rect x="726" y="515" width="1" height="38" fill="#c0c0c0"/>
<rect x="734" y="515" width="1" height="43" fill="#c0c0c0"/>
<rect x="742" y="515" width="1" height="46" fill="#c0c0c0"/>
<rect x="750" y="515" width="1" height="43" fill="#c0c0c0"/>
<rect x="758" y="515" width="1" height="41" fill="#c0c0c0"/>
<rect x="766" y="515" width="1" height="36" fill="#c0c0c0"/>
<rect x="774" y="515" width="1" height="34" fill="#c0c0c0"/>
<rect x="782" y="515" width="1" height="31" fill="#c0c0c0"/>
<rect x="790" y="515" width="1" height="28" fill="#c0c0c0"/>
<rect x="798" y="515" width="1" height="26" fill="#c0c0c0"/>
<rect x="806" y="515" width="1" height="28" fill="#c0c0c0"/>
<rect x="814" y="515" width="1" height="30" fill="#c0c0c0"/>
<rect x="822" y="515" width="1" height="36" fill="#c0c0c0"/>
<rect x="830" y="515" width="1" height="42" fill="#c0c0c0"/>
<rect x="838" y="515" width="1" height="43" fill="#c0c0c0"/>
<rect x="846" y="515" width="1" height="45" fill="#c0c0c0"/>
<rect x="854" y="515" width="1" height="50" fill="#c0c0c0"/>
<rect x="862" y="515" width="1" height="54" fill="#c0c0c0"/>
<rect x="870" y="515" width="1" height="56" fill="#c0c0c0"/>
<rect x="878" y="515" width="1" height="56" fill="#c0c0c0"/>
<rect x="886" y="515" width="1" height="57" fill="#c0c0c0"/>
<rect x="894" y="515" width="1" height="63" fill="#c0c0c0"/>
<rect x="902" y="515" width="1" height="64" fill="#c0c0c0"/>
<rect x="910" y="515" width="1" height="60" fill="#c0c0c0"/>
<rect x="918" y="515" width="1" height="51" fill="#c0c0c0"/>
<rect x="926" y="515" width="1" height="44" fill="#c0c0c0"/>
<rect x="934" y="515" width="1" height="39" fill="#c0c0c0"/>
<rect x="942" y="515" width="1" height="35" fill="#c0c0c0"/>
<rect x="950" y="515" width="1" height="27" fill="#c0c0c0"/>
<rect x="958" y="515" width="1" height="26" fill="#c0c0c0"/>
<rect x="966" y="515" width="1" height="26" fill="#c0c0c0"/>
<rect x="974" y="515" width="1" height="26" fill="#c0c0c0"/>
<rect x="982" y="515" width="1" height="28" fill="#c0c0c0"/>
<rect x="990" y="515" width="1" height="27" fill="#c0c0c0"/>
<rect x="998" y="515" width="1" height="28" fill="#c0c0c0"/>
<rect x="1006" y="515" width="1" height="23" fill="#c0c0c0"/>
<rect x="1014" y="515" width="1" height="22" fill="#c0c0c0"/>
<rect x="1022" y="515" width="1" height="21" fill="#c0c0c0"/>
<rect x="1030" y="515" width="1" height="19" fill="#c0c0c0"/>
<rect x="1038" y="515" width="1" height="19" fill="#c0c0c0"/>
<rect x="1046" y="515" width="1" height="13" fill="#c0c0c0"/>
<rect x="1054" y="515" width="1" height="4" fill="#c0c0c0"/>
<rect x="1062" y="512" width="1" height="4" fill="#c0c0c0"/>
<rect x="1070" y="507" width="1" height="9" fill="#c0c0c0"/>
<rect x="1078" y="503" width="1" height="13" fill="#c0c0c0"/>
<rect x="1086" y="499" width="1" height="17" fill="#c0c0c0"/>
<rect x="1094" y="497" width="1" height="19" fill="#c0c0c0"/>
<rect x="1102" y="495" width="1" height="21" fill="#c0c0c0"/>
<rect x="1110" y="494" width="1" height="22" fill="#c0c0c0"/>
<rect x="1118" y="492" width="1" height="24" fill="#c0c0c0"/>
<rect x="1126" y="488" width="1" height="28" fill="#c0c0c0"/>
<rect x="1134" y="485" width="1" height="31" fill="#c0c0c0"/>
<rect x="1142" y="481" width="1" height="35" fill="#c0c0c0"/>
<rect x="1150" y="481" width="1" height="35" fill="#c0c0c0"/>
<rect x="1158" y="482" width="1" height="34" fill="#c0c0c0"/>
<rect x="1166" y="482" width="1" height="34" fill="#c0c0c0"/>
<rect x="1174" y="483" width="1" height="33" fill="#c0c0c0"/>
<rect x="4" y="486" width="1" height="1" fill="#ff0000"/>
<rect x="5" y="486" width="1" height="1" fill="#ff0000"/>
<rect x="6" y="486" width="1" height="1" fill="#ff0000"/>
<rect x="7" y="487" width="1" height="1" fill="#ff0000"/>
<rect x="8" y="488" width="1" height="1" fill="#ff0000"/>
<rect x="12" y="490" width="1" height="1" fill="#ff0000"/>
<rect x="13" y="490" width="1" height="1" fill="#ff0000"/>
<rect x="14" y="491" width="1" height="1" fill="#ff0000"/>
<rect x="15" y="492" width="1" height="1" fill="#ff0000"/>
<rect x="16" y="492" width="1" height="1" fill="#ff0000"/>
<rect x="20" y="495" width="1" height="1" fill="#ff0000"/>
<rect x="21" y="496" width="1" height="1" fill="#ff0000"/>
<rect x="22" y="497" width="1" height="1" fill="#ff0000"/>
<rect x="23" y="497" width="1" height="1" fill="#ff0000"/>
<rect x="24" y="498" width="1" height="1" fill="#ff0000"/>
<rect x="28" y="501" width="1" height="1" fill="#ff0000"/>
<rect x="29" y="502" width="1" height="1" fill="#ff0000"/>
<rect x="30" y="503" width="1" height="1" fill="#ff0000"/>
<rect x="31" y="503" width="1" height="1" fill="#ff0000"/>
<rect x="32" y="504" width="1" height="1" fill="#ff0000"/>
<rect x="36" y="507" width="1" height="1" fill="#ff0000"/>
<rect x="37" y="508" width="1" height="1" fill="#ff0000"/>
<rect x="38" y="509" width="1" height="1" fill="#ff0000"/>
<rect x="39" y="509" width="1" height="1" fill="#ff0000"/>
<rect x="40" y="510" width="1" height="1" fill="#ff0000"/>
<rect x="44" y="513" width="1" height="1" fill="#ff0000"/>
<rect x="45" y="514" width="1" height="1" fill="#ff0000"/>
<rect x="46" y="514" width="1" height="1" fill="#ff0000"/>
<rect x="47" y="515" width="1" height="1" fill="#ff0000"/>
<rect x="48" y="516" width="1" height="1" fill="#ff0000"/>
<rect x="52" y="519" width="1" height="1" fill="#ff0000"/>
<rect x="53" y="519" width="1" height="1" fill="#ff0000"/>
<rect x="54" y="520" width="1" height="1" fill="#ff0000"/>
<rect x="55" y="521" width="1" height="1" fill="#ff0000"/>
<rect x="56" y="521" width="1" height="1" fill="#ff0000"/>
<rect x="60" y="524" width="1" height="1" fill="#ff0000"/>
<rect x="61" y="524" width="1" height="1" fill="#ff0000"/>
<rect x="62" y="525" width="1" height="1" fill="#ff0000"/>
<rect x="63" y="525" width="1" height="1" fill="#ff0000"/>
<rect x="64" y="526" width="1" height="1" fill="#ff0000"/>
<rect x="68" y="528" width="1" height="1" fill="#ff0000"/>
<rect x="69" y="528" width="1" height="1" fill="#ff0000"/>
<rect x="70" y="529" width="1" height="1" fill="#ff0000"/>
<rect x="71" y="529" width="1" height="1" fill="#ff0000"/>
<rect x="72" y="530" width="1" height="1" fill="#ff0000"/>
<rect x="76" y="531" width="1" height="1" fill="#ff0000"/>
<rect x="77" y="532" width="1" height="1" fill="#ff0000"/>
<rect x="78" y="532" width="1" height="1" fill="#ff0000"/>
<rect x="79" y="532" width="1" height="1" fill="#ff0000"/>
<rect x="80" y="532" width="1" height="1" fill="#ff0000"/>
<rect x="84" y="533" width="1" height="1" fill="#ff0000"/>
<rect x="85" y="533" width="1" height="1" fill="#ff0000"/>
<rect x="86" y="534" width="1" height="1" fill="#ff0000"/>
<rect x="87" y="534" width="1" height="1" fill="#ff0000"/>
<rect x="88" y="534" width="1" height="1" fill="#ff0000"/>
<rect x="92" y="535" width="1" height="1" fill="#ff0000"/>
<rect x="93" y="535" width="1" height="1" fill="#ff0000"/>
<rect x="94" y="536" width="1" height="1" fill="#ff0000"/>
<rect x="95" y="536" width="1" height="1" fill="#ff0000"/>
<rect x="96" y="536" width="1" height="1" fill="#ff0000"/>
<rect x="100" y="536" width="1" height="1" fill="#ff0000"/>
<rect x="101" y="537" width="1" height="1" fill="#ff0000"/>
<rect x="102" y="537" width="1" height="1" fill="#ff0000"/>
<rect x="103" y="537" width="1" height="1" fill="#ff0000"/>
<rect x="104" y="537" width="1" height="1" fill="#ff0000"/>
<rect x="108" y="537" width="1" height="1" fill="#ff0000"/>
<rect x="109" y="537" width="1" height="1" fill="#ff0000"/>
<rect x="110" y="537" width="1" height="1" fill="#ff0000"/>
<rect x="111" y="537" width="1" height="1" fill="#ff0000"/>
<rect x="112" y="537" width="1" height="1" fill="#ff0000"/>
<rect x="116" y="537" width="1" height="1" fill="#ff0000"/>
<rect x="117" y="537" width="1" height="1" fill="#ff0000"/>
<rect x="118" y="537" width="1" height="1" fill="#ff0000"/>
<rect x="119" y="537" width="1" height="1" fill="#ff0000"/>
<rect x="120" y="537" width="1" height="1" fill="#ff0000"/>
<rect x="124" y="538" width="1" height="1" fill="#ff0000"/>
<rect x="125" y="538" width="1" height="1" fill="#ff0000"/>
<rect x="126" y="538" width="1" height="1" fill="#ff0000"/>
<rect x="127" y="538" width="1" height="1" fill="#ff0000"/>
<rect x="128" y="538" width="1" height="1" fill="#ff0000"/>
<rect x="132" y="538" width="1" height="1" fill="#ff0000"/>
<rect x="133" y="538" width="1" height="1" fill="#ff0000"/>
<rect x="134" y="538" width="1" height="1" fill="#ff0000"/>
<rect x="135" y="538" width="1" height="1" fill="#ff0000"/>
<rect x="136" y="538" width="1" height="1" fill="#ff0000"/>
<rect x="140" y="539" width="1" height="1" fill="#ff0000"/>
<rect x="141" y="539" width="1" height="1" fill="#ff0000"/>
<rect x="142" y="539" width="1" height="1" fill="#ff0000"/>
<rect x="143" y="539" width="1" height="1" fill="#ff0000"/>
<rect x="144" y="539" width="1" height="1" fill="#ff0000"/>
<rect x="148" y="539" width="1" height="1" fill="#ff0000"/>
<rect x="149" y="540" width="1" height="1" fill="#ff0000"/>
<rect x="150" y="540" width="1" height="1" fill="#ff0000"/>
<rect x="151" y="540" width="1" height="1" fill="#ff0000"/>
<rect x="152" y="540" width="1" height="1" fill="#ff0000"/>
<rect x="156" y="541" width="1" height="1" fill="#ff0000"/>
<rect x="157" y="541" width="1" height="1" fill="#ff0000"/>
<rect x="158" y="541" width="1" height="1" fill="#ff0000"/>
<rect x="159" y="541" width="1" height="1" fill="#ff0000"/>
<rect x="160" y="541" width="1" height="1" fill="#ff0000"/>
<rect x="164" y="541" width="1" height="1" fill="#ff0000"/>
<rect x="165" y="541" width="1" height="1" fill="#ff0000"/>
<rect x="166" y="541" width="1" height="1" fill="#ff0000"/>
<rect x="167" y="541" width="1" height="1" fill="#ff0000"/>
<rect x="168" y="541" width="1" height="1" fill="#ff0000"/>
<rect x="172" y="542" width="1" height="1" fill="#ff0000"/>
<rect x="173" y="543" width="1" height="1" fill="#ff0000"/>
<rect x="174" y="543" width="1" height="1" fill="#ff0000"/>
<rect x="175" y="543" width="1" height="1" fill="#ff0000"/>
<rect x="176" y="544" width="1" height="1" fill="#ff0000"/>
<rect x="180" y="545" width="1" height="1" fill="#ff0000"/>
<rect x="181" y="546" width="1" height="1" fill="#ff0000"/>
<rect x="182" y="546" width="1" height="1" fill="#ff0000"/>
<rect x="183" y="546" width="1" height="1" fill="#ff0000"/>
<rect x="184" y="547" width="1" height="1" fill="#ff0000"/>
<rect x="188" y="549" width="1" height="1" fill="#ff0000"/>
<rect x="189" y="549" width="1" height="1" fill="#ff0000"/>
<rect x="190" y="550" width="1" height="1" fill="#ff0000"/>
<rect x="191" y="550" width="1" height="1" fill="#ff0000"/>
<rect x="192" y="551" width="1" height="1" fill="#ff0000"/>
<rect x="196" y="553" width="1" height="1" fill="#ff0000"/>
<rect x="197" y="553" width="1" height="1" fill="#ff0000"/>
<rect x="198" y="554" width="1" height="1" fill="#ff0000"/>
<rect x="199" y="554" width="1" height="1" fill="#ff0000"/>
<rect x="200" y="555" width="1" height="1" fill="#ff0000"/>
<rect x="204" y="557" width="1" height="1" fill="#ff0000"/>
<rect x="205" y="558" width="1" height="1" fill="#ff0000"/>
<rect x="206" y="558" width="1" height="1" fill="#ff0000"/>
<rect x="207" y="559" width="1" height="1" fill="#ff0000"/>
<rect x="208" y="559" width="1" height="1" fill="#ff0000"/>
<rect x="212" y="561" width="1" height="1" fill="#ff0000"/>
<rect x="213" y="562" width="1" height="1" fill="#ff0000"/>
<rect x="214" y="563" width="1" height="1" fill="#ff0000"/>
<rect x="215" y="563" width="1" height="1" fill="#ff0000"/>
<rect x="216" y="564" width="1" height="1" fill="#ff0000"/>
<rect x="220" y="566" width="1" height="1" fill="#ff0000"/>
<rect x="221" y="566" width="1" height="1" fill="#ff0000"/>
<rect x="222" y="567" width="1" height="1" fill="#ff0000"/>
<rect x="223" y="567" width="1" height="1" fill="#ff0000"/>
<rect x="224" y="568" width="1" height="1" fill="#ff0000"/>
<rect x="228" y="570" width="1" height="1" fill="#ff0000"/>
<rect x="229" y="570" width="1" height="1" fill="#ff0000"/>
<rect x="230" y="571" width="1" height="1" fill="#ff0000"/>
<rect x="231" y="571" width="1" height="1" fill="#ff0000"/>
<rect x="232" y="571" width="1" height="1" fill="#ff0000"/>
<rect x="236" y="573" width="1" height="1" fill="#ff0000"/>
<rect x="237" y="573" width="1" height="1" fill="#ff0000"/>
<rect x="238" y="574" width="1" height="1" fill="#ff0000"/>
<rect x="239" y="574" width="1" height="1" fill="#ff0000"/>
<rect x="240" y="575" width="1" height="1" fill="#ff0000"/>
<rect x="244" y="576" width="1" height="1" fill="#ff0000"/>
<rect x="245" y="576" width="1" height="1" fill="#ff0000"/>
<rect x="246" y="577" width="1" height="1" fill="#ff0000"/>
<rect x="247" y="577" width="1" height="1" fill="#ff0000"/>
<rect x="248" y="577" width="1" height="1" fill="#ff0000"/>
<rect x="252" y="578" width="1" height="1" fill="#ff0000"/>
<rect x="253" y="578" width="1" height="1" fill="#ff0000"/>
<rect x="254" y="578" width="1" height="1" fill="#ff0000"/>
<rect x="255" y="578" width="1" height="1" fill="#ff0000"/>
<rect x="256" y="578" width="1" height="1" fill="#ff0000"/>
<rect x="260" y="578" width="1" height="1" fill="#ff0000"/>
<rect x="261" y="578" width="1" height="1" fill="#ff0000"/>
<rect x="262" y="578" width="1" height="1" fill="#ff0000"/>
<rect x="263" y="578" width="1" height="1" fill="#ff0000"/>
<rect x="264" y="578" width="1" height="1" fill="#ff0000"/>
<rect x="268" y="577" width="1" height="1" fill="#ff0000"/>
<rect x="269" y="577" width="1" height="1" fill="#ff0000"/>
<rect x="270" y="577" width="1" height="1" fill="#ff0000"/>
<rect x="271" y="577" width="1" height="1" fill="#ff0000"/>
<rect x="272" y="577" width="1" height="1" fill="#ff0000"/>
<rect x="276" y="576" width="1" height="1" fill="#ff0000"/>
<rect x="277" y="576" width="1" height="1" fill="#ff0000"/>
<rect x="278" y="576" width="1" height="1" fill="#ff0000"/>
<rect x="279" y="576" width="1" height="1" fill="#ff0000"/>
<rect x="280" y="575" width="1" height="1" fill="#ff0000"/>
<rect x="284" y="575" width="1" height="1" fill="#ff0000"/>
<rect x="285" y="575" width="1" height="1" fill="#ff0000"/>
<rect x="286" y="575" width="1" height="1" fill="#ff0000"/>
<rect x="287" y="575" width="1" height="1" fill="#ff0000"/>
<rect x="288" y="575" width="1" height="1" fill="#ff0000"/>
<rect x="292" y="574" width="1" height="1" fill="#ff0000"/>
<rect x="293" y="574" width="1" height="1" fill="#ff0000"/>
<rect x="294" y="574" width="1" height="1" fill="#ff0000"/>
<rect x="295" y="574" width="1" height="1" fill="#ff0000"/>
<rect x="296" y="574" width="1" height="1" fill="#ff0000"/>
<rect x="300" y="573" width="1" height="1" fill="#ff0000"/>
<rect x="301" y="573" width="1" height="1" fill="#ff0000"/>
<rect x="302" y="573" width="1" height="1" fill="#ff0000"/>
<rect x="303" y="573" width="1" height="1" fill="#ff0000"/>
<rect x="304" y="573" width="1" height="1" fill="#ff0000"/>
<rect x="308" y="573" width="1" height="1" fill="#ff0000"/>
<rect x="309" y="573" width="1" height="1" fill="#ff0000"/>
<rect x="310" y="573" width="1" height="1" fill="#ff0000"/>
<rect x="311" y="573" width="1" height="1" fill="#ff0000"/>
<rect x="312" y="573" width="1" height="1" fill="#ff0000"/>
<rect x="316" y="572" width="1" height="1" fill="#ff0000"/>
<rect x="317" y="572" width="1" height="1" fill="#ff0000"/>
<rect x="318" y="572" width="1" height="1" fill="#ff0000"/>
<rect x="319" y="572" width="1" height="1" fill="#ff0000"/>
<rect x="320" y="572" width="1" height="1" fill="#ff0000"/>
<rect x="324" y="572" width="1" height="1" fill="#ff0000"/>
<rect x="325" y="572" width="1" height="1" fill="#ff0000"/>
<rect x="326" y="572" width="1" height="1" fill="#ff0000"/>
<rect x="327" y="572" width="1" height="1" fill="#ff0000"/>
<rect x="328" y="572" width="1" height="1" fill="#ff0000"/>
<rect x="332" y="572" width="1" height="1" fill="#ff0000"/>
<rect x="333" y="572" width="1" height="1" fill="#ff0000"/>
<rect x="334" y="572" width="1" height="1" fill="#ff0000"/>
<rect x="335" y="571" width="1" height="1" fill="#ff0000"/>
<rect x="336" y="571" width="1" height="1" fill="#ff0000"/>
<rect x="340" y="571" width="1" height="1" fill="#ff0000"/>
<rect x="341" y="571" width="1" height="1" fill="#ff0000"/>
<rect x="342" y="571" width="1" height="1" fill="#ff0000"/>
<rect x="343" y="571" width="1" height="1" fill="#ff0000"/>
<rect x="344" y="571" width="1" height="1" fill="#ff0000"/>
<rect x="348" y="570" width="1" height="1" fill="#ff0000"/>
<rect x="349" y="570" width="1" height="1" fill="#ff0000"/>
<rect x="350" y="570" width="1" height="1" fill="#ff0000"/>
<rect x="351" y="570" width="1" height="1" fill="#ff0000"/>
<rect x="352" y="569" width="1" height="1" fill="#ff0000"/>
<rect x="356" y="568" width="1" height="1" fill="#ff0000"/>
<rect x="357" y="568" width="1" height="1" fill="#ff0000"/>
<rect x="358" y="568" width="1" height="1" fill="#ff0000"/>
<rect x="359" y="567" width="1" height="1" fill="#ff0000"/>
<rect x="360" y="567" width="1" height="1" fill="#ff0000"/>
<rect x="364" y="565" width="1" height="1" fill="#ff0000"/>
<rect x="365" y="564" width="1" height="1" fill="#ff0000"/>
<rect x="366" y="564" width="1" height="1" fill="#ff0000"/>
<rect x="367" y="563" width="1" height="1" fill="#ff0000"/>
<rect x="368" y="563" width="1" height="1" fill="#ff0000"/>
<rect x="372" y="560" width="1" height="1" fill="#ff0000"/>
<rect x="373" y="560" width="1" height="1" fill="#ff0000"/>
<rect x="374" y="559" width="1" height="1" fill="#ff0000"/>
<rect x="375" y="558" width="1" height="1" fill="#ff0000"/>
<rect x="376" y="558" width="1" height="1" fill="#ff0000"/>
<rect x="380" y="555" width="1" height="1" fill="#ff0000"/>
<rect x="381" y="555" width="1" height="1" fill="#ff0000"/>
<rect x="382" y="554" width="1" height="1" fill="#ff0000"/>
<rect x="383" y="553" width="1" height="1" fill="#ff0000"/>
<rect x="384" y="553" width="1" height="1" fill="#ff0000"/>
<rect x="388" y="550" width="1" height="1" fill="#ff0000"/>
<rect x="389" y="550" width="1" height="1" fill="#ff0000"/>
<rect x="390" y="549" width="1" height="1" fill="#ff0000"/>
<rect x="391" y="548" width="1" height="1" fill="#ff0000"/>
<rect x="392" y="548" width="1" height="1" fill="#ff0000"/>
<rect x="396" y="545" width="1" height="1" fill="#ff0000"/>
<rect x="397" y="545" width="1" height="1" fill="#ff0000"/>
<rect x="398" y="544" width="1" height="1" fill="#ff0000"/>
<rect x="399" y="544" width="1" height="1" fill="#ff0000"/>
<rect x="400" y="543" width="1" height="1" fill="#ff0000"/>
<rect x="404" y="540" width="1" height="1" fill="#ff0000"/>
<rect x="405" y="540" width="1" height="1" fill="#ff0000"/>
<rect x="406" y="539" width="1" height="1" fill="#ff0000"/>
<rect x="407" y="539" width="1" height="1" fill="#ff0000"/>
<rect x="408" y="538" width="1" height="1" fill="#ff0000"/>
<rect x="412" y="537" width="1" height="1" fill="#ff0000"/>
<rect x="413" y="536" width="1" height="1" fill="#ff0000"/>
<rect x="414" y="536" width="1" height="1" fill="#ff0000"/>
<rect x="415" y="536" width="1" height="1" fill="#ff0000"/>
<rect x="416" y="536" width="1" height="1" fill="#ff0000"/>
<rect x="420" y="534" width="1" height="1" fill="#ff0000"/>
<rect x="421" y="534" width="1" height="1" fill="#ff0000"/>
<rect x="422" y="534" width="1" height="1" fill="#ff0000"/>
<rect x="423" y="534" width="1" height="1" fill="#ff0000"/>
<rect x="424" y="534" width="1" height="1" fill="#ff0000"/>
<rect x="428" y="533" width="1" height="1" fill="#ff0000"/>
<rect x="429" y="533" width="1" height="1" fill="#ff0000"/>
<rect x="430" y="533" width="1" height="1" fill="#ff0000"/>
<rect x="431" y="533" width="1" height="1" fill="#ff0000"/>
<rect x="432" y="533" width="1" height="1" fill="#ff0000"/>
<rect x="436" y="534" width="1" height="1" fill="#ff0000"/>
<rect x="437" y="535" width="1" height="1" fill="#ff0000"/>
<rect x="438" y="535" width="1" height="1" fill="#ff0000"/>
<rect x="439" y="535" width="1" height="1" fill="#ff0000"/>
<rect x="440" y="536" width="1" height="1" fill="#ff0000"/>
<rect x="444" y="537" width="1" height="1" fill="#ff0000"/>
<rect x="445" y="538" width="1" height="1" fill="#ff0000"/>
<rect x="446" y="538" width="1" height="1" fill="#ff0000"/>
<rect x="447" y="538" width="1" height="1" fill="#ff0000"/>
<rect x="448" y="539" width="1" height="1" fill="#ff0000"/>
<rect x="452" y="541" width="1" height="1" fill="#ff0000"/>
<rect x="453" y="541" width="1" height="1" fill="#ff0000"/>
<rect x="454" y="542" width="1" height="1" fill="#ff0000"/>
<rect x="455" y="542" width="1" height="1" fill="#ff0000"/>
<rect x="456" y="543" width="1" height="1" fill="#ff0000"/>
<rect x="460" y="545" width="1" height="1" fill="#ff0000"/>
<rect x="461" y="545" width="1" height="1" fill="#ff0000"/>
<rect x="462" y="546" width="1" height="1" fill="#ff0000"/>
<rect x="463" y="547" width="1" height="1" fill="#ff0000"/>
<rect x="464" y="547" width="1" height="1" fill="#ff0000"/>
<rect x="468" y="549" width="1" height="1" fill="#ff0000"/>
<rect x="469" y="550" width="1" height="1" fill="#ff0000"/>
<rect x="470" y="550" width="1" height="1" fill="#ff0000"/>
<rect x="471" y="551" width="1" height="1" fill="#ff0000"/>
<rect x="472" y="551" width="1" height="1" fill="#ff0000"/>
<rect x="476" y="553" width="1" height="1" fill="#ff0000"/>
<rect x="477" y="554" width="1" height="1" fill="#ff0000"/>
<rect x="478" y="555" width="1" height="1" fill="#ff0000"/>
<rect x="479" y="555" width="1" height="1" fill="#ff0000"/>
<rect x="480" y="555" width="1" height="1" fill="#ff0000"/>
<rect x="484" y="557" width="1" height="1" fill="#ff0000"/>
<rect x="485" y="557" width="1" height="1" fill="#ff0000"/>
<rect x="486" y="558" width="1" height="1" fill="#ff0000"/>
<rect x="487" y="558" width="1" height="1" fill="#ff0000"/>
<rect x="488" y="558" width="1" height="1" fill="#ff0000"/>
<rect x="492" y="559" width="1" height="1" fill="#ff0000"/>
<rect x="493" y="560" width="1" height="1" fill="#ff0000"/>
<rect x="494" y="560" width="1" height="1" fill="#ff0000"/>
<rect x="495" y="560" width="1" height="1" fill="#ff0000"/>
<rect x="496" y="560" width="1" height="1" fill="#ff0000"/>
<rect x="500" y="561" width="1" height="1" fill="#ff0000"/>
<rect x="501" y="562" width="1" height="1" fill="#ff0000"/>
<rect x="502" y="562" width="1" height="1" fill="#ff0000"/>
<rect x="503" y="562" width="1" height="1" fill="#ff0000"/>
<rect x="504" y="562" width="1" height="1" fill="#ff0000"/>
<rect x="508" y="562" width="1" height="1" fill="#ff0000"/>
<rect x="509" y="562" width="1" height="1" fill="#ff0000"/>
<rect x="510" y="562" width="1" height="1" fill="#ff0000"/>
<rect x="511" y="562" width="1" height="1" fill="#ff0000"/>
<rect x="512" y="562" width="1" height="1" fill="#ff0000"/>
<rect x="516" y="562" width="1" height="1" fill="#ff0000"/>
<rect x="517" y="562" width="1" height="1" fill="#ff0000"/>
<rect x="518" y="562" width="1" height="1" fill="#ff0000"/>
<rect x="519" y="562" width="1" height="1" fill="#ff0000"/>
<rect x="520" y="562" width="1" height="1" fill="#ff0000"/>
<rect x="524" y="561" width="1" height="1" fill="#ff0000"/>
<rect x="525" y="561" width="1" height="1" fill="#ff0000"/>
<rect x="526" y="561" width="1" height="1" fill="#ff0000"/>
<rect x="527" y="560" width="1" height="1" fill="#ff0000"/>
<rect x="528" y="560" width="1" height="1" fill="#ff0000"/>
<rect x="532" y="558" width="1" height="1" fill="#ff0000"/>
<rect x="533" y="558" width="1" height="1" fill="#ff0000"/>
<rect x="534" y="557" width="1" height="1" fill="#ff0000"/>
<rect x="535" y="557" width="1" height="1" fill="#ff0000"/>
<rect x="536" y="557" width="1" height="1" fill="#ff0000"/>
<rect x="540" y="555" width="1" height="1" fill="#ff0000"/>
<rect x="541" y="554" width="1" height="1" fill="#ff0000"/>
<rect x="542" y="554" width="1" height="1" fill="#ff0000"/>
<rect x="543" y="553" width="1" height="1" fill="#ff0000"/>
<rect x="544" y="553" width="1" height="1" fill="#ff0000"/>
<rect x="548" y="551" width="1" height="1" fill="#ff0000"/>
<rect x="549" y="550" width="1" height="1" fill="#ff0000"/>
<rect x="550" y="550" width="1" height="1" fill="#ff0000"/>
<rect x="551" y="549" width="1" height="1" fill="#ff0000"/>
<rect x="552" y="549" width="1" height="1" fill="#ff0000"/>
<rect x="556" y="547" width="1" height="1" fill="#ff0000"/>
<rect x="557" y="546" width="1" height="1" fill="#ff0000"/>
<rect x="558" y="546" width="1" height="1" fill="#ff0000"/>
<rect x="559" y="545" width="1" height="1" fill="#ff0000"/>
<rect x="560" y="544" width="1" height="1" fill="#ff0000"/>
<rect x="564" y="541" width="1" height="1" fill="#ff0000"/>
<rect x="565" y="540" width="1" height="1" fill="#ff0000"/>
<rect x="566" y="539" width="1" height="1" fill="#ff0000"/>
<rect x="567" y="539" width="1" height="1" fill="#ff0000"/>
<rect x="568" y="538" width="1" height="1" fill="#ff0000"/>
<rect x="572" y="536" width="1" height="1" fill="#ff0000"/>
<rect x="573" y="536" width="1" height="1" fill="#ff0000"/>
<rect x="574" y="535" width="1" height="1" fill="#ff0000"/>
<rect x="575" y="535" width="1" height="1" fill="#ff0000"/>
<rect x="576" y="534" width="1" height="1" fill="#ff0000"/>
<rect x="580" y="532" width="1" height="1" fill="#ff0000"/>
<rect x="581" y="531" width="1" height="1" fill="#ff0000"/>
<rect x="582" y="531" width="1" height="1" fill="#ff0000"/>
<rect x="583" y="530" width="1" height="1" fill="#ff0000"/>
<rect x="584" y="530" width="1" height="1" fill="#ff0000"/>
<rect x="588" y="528" width="1" height="1" fill="#ff0000"/>
<rect x="589" y="527" width="1" height="1" fill="#ff0000"/>
<rect x="590" y="527" width="1" height="1" fill="#ff0000"/>
<rect x="591" y="527" width="1" height="1" fill="#ff0000"/>
<rect x="592" y="526" width="1" height="1" fill="#ff0000"/>
<rect x="596" y="525" width="1" height="1" fill="#ff0000"/>
<rect x="597" y="524" width="1" height="1" fill="#ff0000"/>
<rect x="598" y="524" width="1" height="1" fill="#ff0000"/>
<rect x="599" y="524" width="1" height="1" fill="#ff0000"/>
<rect x="600" y="523" width="1" height="1" fill="#ff0000"/>
<rect x="604" y="522" width="1" height="1" fill="#ff0000"/>
<rect x="605" y="521" width="1" height="1" fill="#ff0000"/>
<rect x="606" y="521" width="1" height="1" fill="#ff0000"/>
<rect x="607" y="521" width="1" height="1" fill="#ff0000"/>
<rect x="608" y="521" width="1" height="1" fill="#ff0000"/>
<rect x="612" y="520" width="1" height="1" fill="#ff0000"/>
<rect x="613" y="520" width="1" height="1" fill="#ff0000"/>
<rect x="614" y="520" width="1" height="1" fill="#ff0000"/>
<rect x="615" y="520" width="1" height="1" fill="#ff0000"/>
<rect x="616" y="520" width="1" height="1" fill="#ff0000"/>
<rect x="620" y="519" width="1" height="1" fill="#ff0000"/>
<rect x="621" y="519" width="1" height="1" fill="#ff0000"/>
<rect x="622" y="519" width="1" height="1" fill="#ff0000"/>
<rect x="623" y="519" width="1" height="1" fill="#ff0000"/>
<rect x="624" y="519" width="1" height="1" fill="#ff0000"/>
<rect x="628" y="519" width="1" height="1" fill="#ff0000"/>
<rect x="629" y="519" width="1" height="1" fill="#ff0000"/>
<rect x="630" y="519" width="1" height="1" fill="#ff0000"/>
<rect x="631" y="519" width="1" height="1" fill="#ff0000"/>
<rect x="632" y="519" width="1" height="1" fill="#ff0000"/>
<rect x="636" y="519" width="1" height="1" fill="#ff0000"/>
<rect x="637" y="519" width="1" height="1" fill="#ff0000"/>
<rect x="638" y="519" width="1" height="1" fill="#ff0000"/>
<rect x="639" y="519" width="1" height="1" fill="#ff0000"/>
<rect x="640" y="519" width="1" height="1" fill="#ff0000"/>
<rect x="644" y="520" width="1" height="1" fill="#ff0000"/>
<rect x="645" y="520" width="1" height="1" fill="#ff0000"/>
<rect x="646" y="520" width="1" height="1" fill="#ff0000"/>
<rect x="647" y="520" width="1" height="1" fill="#ff0000"/>
<rect x="648" y="520" width="1" height="1" fill="#ff0000"/>
<rect x="652" y="520" width="1" height="1" fill="#ff0000"/>
<rect x="653" y="520" width="1" height="1" fill="#ff0000"/>
<rect x="654" y="520" width="1" height="1" fill="#ff0000"/>
<rect x="655" y="520" width="1" height="1" fill="#ff0000"/>
<rect x="656" y="520" width="1" height="1" fill="#ff0000"/>
<rect x="660" y="521" width="1" height="1" fill="#ff0000"/>
<rect x="661" y="521" width="1" height="1" fill="#ff0000"/>
<rect x="662" y="521" width="1" height="1" fill="#ff0000"/>
<rect x="663" y="521" width="1" height="1" fill="#ff0000"/>
<rect x="664" y="521" width="1" height="1" fill="#ff0000"/>
<rect x="668" y="522" width="1" height="1" fill="#ff0000"/>
<rect x="669" y="522" width="1" height="1" fill="#ff0000"/>
<rect x="670" y="522" width="1" height="1" fill="#ff0000"/>
<rect x="671" y="522" width="1" height="1" fill="#ff0000"/>
<rect x="672" y="522" width="1" height="1" fill="#ff0000"/>
<rect x="676" y="523" width="1" height="1" fill="#ff0000"/>
<rect x="677" y="524" width="1" height="1" fill="#ff0000"/>
<rect x="678" y="524" width="1" height="1" fill="#ff0000"/>
<rect x="679" y="524" width="1" height="1" fill="#ff0000"/>
<rect x="680" y="524" width="1" height="1" fill="#ff0000"/>
<rect x="684" y="526" width="1" height="1" fill="#ff0000"/>
<rect x="685" y="526" width="1" height="1" fill="#ff0000"/>
<rect x="686" y="526" width="1" height="1" fill="#ff0000"/>
<rect x="687" y="526" width="1" height="1" fill="#ff0000"/>
<rect x="688" y="527" width="1" height="1" fill="#ff0000"/>
<rect x="692" y="528" width="1" height="1" fill="#ff0000"/>
<rect x="693" y="528" width="1" height="1" fill="#ff0000"/>
<rect x="694" y="529" width="1" height="1" fill="#ff0000"/>
<rect x="695" y="529" width="1" height="1" fill="#ff0000"/>
<rect x="696" y="529" width="1" height="1" fill="#ff0000"/>
<rect x="700" y="531" width="1" height="1" fill="#ff0000"/>
<rect x="701" y="531" width="1" height="1" fill="#ff0000"/>
<rect x="702" y="531" width="1" height="1" fill="#ff0000"/>
<rect x="703" y="532" width="1" height="1" fill="#ff0000"/>
<rect x="704" y="532" width="1" height="1" fill="#ff0000"/>
<rect x="708" y="533" width="1" height="1" fill="#ff0000"/>
<rect x="709" y="533" width="1" height="1" fill="#ff0000"/>
<rect x="710" y="534" width="1" height="1" fill="#ff0000"/>
<rect x="711" y="534" width="1" height="1" fill="#ff0000"/>
<rect x="712" y="535" width="1" height="1" fill="#ff0000"/>
<rect x="716" y="536" width="1" height="1" fill="#ff0000"/>
<rect x="717" y="536" width="1" height="1" fill="#ff0000"/>
<rect x="718" y="537" width="1" height="1" fill="#ff0000"/>
<rect x="719" y="537" width="1" height="1" fill="#ff0000"/>
<rect x="720" y="538" width="1" height="1" fill="#ff0000"/>
<rect x="724" y="539" width="1" height="1" fill="#ff0000"/>
<rect x="725" y="540" width="1" height="1" fill="#ff0000"/>
<rect x="726" y="540" width="1" height="1" fill="#ff0000"/>
<rect x="727" y="541" width="1" height="1" fill="#ff0000"/>
<rect x="728" y="541" width="1" height="1" fill="#ff0000"/>
<rect x="732" y="542" width="1" height="1" fill="#ff0000"/>
<rect x="733" y="543" width="1" height="1" fill="#ff0000"/>
<rect x="734" y="543" width="1" height="1" fill="#ff0000"/>
<rect x="735" y="544" width="1" height="1" fill="#ff0000"/>
<rect x="736" y="544" width="1" height="1" fill="#ff0000"/>
<rect x="740" y="546" width="1" height="1" fill="#ff0000"/>
<rect x="741" y="546" width="1" height="1" fill="#ff0000"/>
<rect x="742" y="547" width="1" height="1" fill="#ff0000"/>
<rect x="743" y="547" width="1" height="1" fill="#ff0000"/>
<rect x="744" y="547" width="1" height="1" fill="#ff0000"/>
<rect x="748" y="548" width="1" height="1" fill="#ff0000"/>
<rect x="749" y="549" width="1" height="1" fill="#ff0000"/>
<rect x="750" y="549" width="1" height="1" fill="#ff0000"/>
<rect x="751" y="549" width="1" height="1" fill="#ff0000"/>
<rect x="752" y="549" width="1" height="1" fill="#ff0000"/>
<rect x="756" y="550" width="1" height="1" fill="#ff0000"/>
<rect x="757" y="551" width="1" height="1" fill="#ff0000"/>
<rect x="758" y="551" width="1" height="1" fill="#ff0000"/>
<rect x="759" y="551" width="1" height="1" fill="#ff0000"/>
<rect x="760" y="551" width="1" height="1" fill="#ff0000"/>
<rect x="764" y="552" width="1" height="1" fill="#ff0000"/>
<rect x="765" y="552" width="1" height="1" fill="#ff0000"/>
<rect x="766" y="552" width="1" height="1" fill="#ff0000"/>
<rect x="767" y="552" width="1" height="1" fill="#ff0000"/>
<rect x="768" y="552" width="1" height="1" fill="#ff0000"/>
<rect x="772" y="553" width="1" height="1" fill="#ff0000"/>
<rect x="773" y="553" width="1" height="1" fill="#ff0000"/>
<rect x="774" y="553" width="1" height="1" fill="#ff0000"/>
<rect x="775" y="553" width="1" height="1" fill="#ff0000"/>
<rect x="776" y="553" width="1" height="1" fill="#ff0000"/>
<rect x="780" y="553" width="1" height="1" fill="#ff0000"/>
<rect x="781" y="553" width="1" height="1" fill="#ff0000"/>
<rect x="782" y="553" width="1" height="1" fill="#ff0000"/>
<rect x="783" y="553" width="1" height="1" fill="#ff0000"/>
<rect x="784" y="553" width="1" height="1" fill="#ff0000"/>
<rect x="788" y="553" width="1" height="1" fill="#ff0000"/>
<rect x="789" y="553" width="1" height="1" fill="#ff0000"/>
<rect x="790" y="553" width="1" height="1" fill="#ff0000"/>
<rect x="791" y="553" width="1" height="1" fill="#ff0000"/>
<rect x="792" y="553" width="1" height="1" fill="#ff0000"/>
<rect x="796" y="552" width="1" height="1" fill="#ff0000"/>
<rect x="797" y="552" width="1" height="1" fill="#ff0000"/>
<rect x="798" y="552" width="1" height="1" fill="#ff0000"/>
<rect x="799" y="552" width="1" height="1" fill="#ff0000"/>
<rect x="800" y="551" width="1" height="1" fill="#ff0000"/>
<rect x="804" y="550" width="1" height="1" fill="#ff0000"/>
<rect x="805" y="550" width="1" height="1" fill="#ff0000"/>
<rect x="806" y="550" width="1" height="1" fill="#ff0000"/>
<rect x="807" y="550" width="1" height="1" fill="#ff0000"/>
<rect x="808" y="549" width="1" height="1" fill="#ff0000"/>
<rect x="812" y="549" width="1" height="1" fill="#ff0000"/>
<rect x="813" y="548" width="1" height="1" fill="#ff0000"/>
<rect x="814" y="548" width="1" height="1" fill="#ff0000"/>
<rect x="815" y="548" width="1" height="1" fill="#ff0000"/>
<rect x="816" y="548" width="1" height="1" fill="#ff0000"/>
<rect x="820" y="547" width="1" height="1" fill="#ff0000"/>
<rect x="821" y="547" width="1" height="1" fill="#ff0000"/>
<rect x="822" y="547" width="1" height="1" fill="#ff0000"/>
<rect x="823" y="547" width="1" height="1" fill="#ff0000"/>
<rect x="824" y="547" width="1" height="1" fill="#ff0000"/>
<rect x="828" y="547" width="1" height="1" fill="#ff0000"/>
<rect x="829" y="547" width="1" height="1" fill="#ff0000"/>
<rect x="830" y="547" width="1" height="1" fill="#ff0000"/>
<rect x="831" y="547" width="1" height="1" fill="#ff0000"/>
<rect x="832" y="547" width="1" height="1" fill="#ff0000"/>
<rect x="836" y="548" width="1" height="1" fill="#ff0000"/>
<rect x="837" y="548" width="1" height="1" fill="#ff0000"/>
<rect x="838" y="548" width="1" height="1" fill="#ff0000"/>
<rect x="839" y="548" width="1" height="1" fill="#ff0000"/>
<rect x="840" y="548" width="1" height="1" fill="#ff0000"/>
<rect x="844" y="549" width="1" height="1" fill="#ff0000"/>
<rect x="845" y="549" width="1" height="1" fill="#ff0000"/>
<rect x="846" y="549" width="1" height="1" fill="#ff0000"/>
<rect x="847" y="549" width="1" height="1" fill="#ff0000"/>
<rect x="848" y="550" width="1" height="1" fill="#ff0000"/>
<rect x="852" y="551" width="1" height="1" fill="#ff0000"/>
<rect x="853" y="552" width="1" height="1" fill="#ff0000"/>
<rect x="854" y="552" width="1" height="1" fill="#ff0000"/>
<rect x="855" y="552" width="1" height="1" fill="#ff0000"/>
<rect x="856" y="552" width="1" height="1" fill="#ff0000"/>
<rect x="860" y="554" width="1" height="1" fill="#ff0000"/>
<rect x="861" y="554" width="1" height="1" fill="#ff0000"/>
<rect x="862" y="554" width="1" height="1" fill="#ff0000"/>
<rect x="863" y="555" width="1" height="1" fill="#ff0000"/>
<rect x="864" y="555" width="1" height="1" fill="#ff0000"/>
<rect x="868" y="557" width="1" height="1" fill="#ff0000"/>
<rect x="869" y="557" width="1" height="1" fill="#ff0000"/>
<rect x="870" y="557" width="1" height="1" fill="#ff0000"/>
<rect x="871" y="558" width="1" height="1" fill="#ff0000"/>
<rect x="872" y="558" width="1" height="1" fill="#ff0000"/>
<rect x="876" y="560" width="1" height="1" fill="#ff0000"/>
<rect x="877" y="561" width="1" height="1" fill="#ff0000"/>
<rect x="878" y="561" width="1" height="1" fill="#ff0000"/>
<rect x="879" y="561" width="1" height="1" fill="#ff0000"/>
<rect x="880" y="562" width="1" height="1" fill="#ff0000"/>
<rect x="884" y="563" width="1" height="1" fill="#ff0000"/>
<rect x="885" y="564" width="1" height="1" fill="#ff0000"/>
<rect x="886" y="564" width="1" height="1" fill="#ff0000"/>
<rect x="887" y="564" width="1" height="1" fill="#ff0000"/>
<rect x="888" y="565" width="1" height="1" fill="#ff0000"/>
<rect x="892" y="566" width="1" height="1" fill="#ff0000"/>
<rect x="893" y="566" width="1" height="1" fill="#ff0000"/>
<rect x="894" y="567" width="1" height="1" fill="#ff0000"/>
<rect x="895" y="567" width="1" height="1" fill="#ff0000"/>
<rect x="896" y="567" width="1" height="1" fill="#ff0000"/>
<rect x="900" y="568" width="1" height="1" fill="#ff0000"/>
<rect x="901" y="568" width="1" height="1" fill="#ff0000"/>
<rect x="902" y="569" width="1" height="1" fill="#ff0000"/>
<rect x="903" y="569" width="1" height="1" fill="#ff0000"/>
<rect x="904" y="569" width="1" height="1" fill="#ff0000"/>
<rect x="908" y="570" width="1" height="1" fill="#ff0000"/>
<rect x="909" y="571" width="1" height="1" fill="#ff0000"/>
<rect x="910" y="571" width="1" height="1" fill="#ff0000"/>
<rect x="911" y="571" width="1" height="1" fill="#ff0000"/>
<rect x="912" y="571" width="1" height="1" fill="#ff0000"/>
<rect x="916" y="572" width="1" height="1" fill="#ff0000"/>
<rect x="917" y="572" width="1" height="1" fill="#ff0000"/>
<rect x="918" y="572" width="1" height="1" fill="#ff0000"/>
<rect x="919" y="572" width="1" height="1" fill="#ff0000"/>
<rect x="920" y="572" width="1" height="1" fill="#ff0000"/>
<rect x="924" y="571" width="1" height="1" fill="#ff0000"/>
<rect x="925" y="571" width="1" height="1" fill="#ff0000"/>
<rect x="926" y="571" width="1" height="1" fill="#ff0000"/>
<rect x="927" y="571" width="1" height="1" fill="#ff0000"/>
<rect x="928" y="570" width="1" height="1" fill="#ff0000"/>
<rect x="932" y="569" width="1" height="1" fill="#ff0000"/>
<rect x="933" y="569" width="1" height="1" fill="#ff0000"/>
<rect x="934" y="569" width="1" height="1" fill="#ff0000"/>
<rect x="935" y="568" width="1" height="1" fill="#ff0000"/>
<rect x="936" y="568" width="1" height="1" fill="#ff0000"/>
<rect x="940" y="567" width="1" height="1" fill="#ff0000"/>
<rect x="941" y="567" width="1" height="1" fill="#ff0000"/>
<rect x="942" y="567" width="1" height="1" fill="#ff0000"/>
<rect x="943" y="566" width="1" height="1" fill="#ff0000"/>
<rect x="944" y="566" width="1" height="1" fill="#ff0000"/>
<rect x="948" y="565" width="1" height="1" fill="#ff0000"/>
<rect x="949" y="564" width="1" height="1" fill="#ff0000"/>
<rect x="950" y="564" width="1" height="1" fill="#ff0000"/>
<rect x="951" y="563" width="1" height="1" fill="#ff0000"/>
<rect x="952" y="563" width="1" height="1" fill="#ff0000"/>
<rect x="956" y="561" width="1" height="1" fill="#ff0000"/>
<rect x="957" y="560" width="1" height="1" fill="#ff0000"/>
<rect x="958" y="560" width="1" height="1" fill="#ff0000"/>
<rect x="959" y="559" width="1" height="1" fill="#ff0000"/>
<rect x="960" y="559" width="1" height="1" fill="#ff0000"/>
<rect x="964" y="557" width="1" height="1" fill="#ff0000"/>
<rect x="965" y="556" width="1" height="1" fill="#ff0000"/>
<rect x="966" y="556" width="1" height="1" fill="#ff0000"/>
<rect x="967" y="555" width="1" height="1" fill="#ff0000"/>
<rect x="968" y="555" width="1" height="1" fill="#ff0000"/>
<rect x="972" y="553" width="1" height="1" fill="#ff0000"/>
<rect x="973" y="553" width="1" height="1" fill="#ff0000"/>
<rect x="974" y="552" width="1" height="1" fill="#ff0000"/>
<rect x="975" y="552" width="1" height="1" fill="#ff0000"/>
<rect x="976" y="551" width="1" height="1" fill="#ff0000"/>
<rect x="980" y="550" width="1" height="1" fill="#ff0000"/>
<rect x="981" y="549" width="1" height="1" fill="#ff0000"/>
<rect x="982" y="549" width="1" height="1" fill="#ff0000"/>
<rect x="983" y="549" width="1" height="1" fill="#ff0000"/>
<rect x="984" y="548" width="1" height="1" fill="#ff0000"/>
<rect x="988" y="547" width="1" height="1" fill="#ff0000"/>
<rect x="989" y="546" width="1" height="1" fill="#ff0000"/>
<rect x="990" y="546" width="1" height="1" fill="#ff0000"/>
<rect x="991" y="546" width="1" height="1" fill="#ff0000"/>
<rect x="992" y="545" width="1" height="1" fill="#ff0000"/>
<rect x="996" y="544" width="1" height="1" fill="#ff0000"/>
<rect x="997" y="544" width="1" height="1" fill="#ff0000"/>
<rect x="998" y="544" width="1" height="1" fill="#ff0000"/>
<rect x="999" y="544" width="1" height="1" fill="#ff0000"/>
<rect x="1000" y="543" width="1" height="1" fill="#ff0000"/>
<rect x="1004" y="542" width="1" height="1" fill="#ff0000"/>
<rect x="1005" y="542" width="1" height="1" fill="#ff0000"/>
<rect x="1006" y="542" width="1" height="1" fill="#ff0000"/>
<rect x="1007" y="542" width="1" height="1" fill="#ff0000"/>
<rect x="1008" y="542" width="1" height="1" fill="#ff0000"/>
<rect x="1012" y="541" width="1" height="1" fill="#ff0000"/>
<rect x="1013" y="541" width="1" height="1" fill="#ff0000"/>
<rect x="1014" y="541" width="1" height="1" fill="#ff0000"/>
<rect x="1015" y="541" width="1" height="1" fill="#ff0000"/>
<rect x="1016" y="541" width="1" height="1" fill="#ff0000"/>
<rect x="1020" y="540" width="1" height="1" fill="#ff0000"/>
<rect x="1021" y="540" width="1" height="1" fill="#ff0000"/>
<rect x="1022" y="540" width="1" height="1" fill="#ff0000"/>
<rect x="1023" y="540" width="1" height="1" fill="#ff0000"/>
<rect x="1024" y="540" width="1" height="1" fill="#ff0000"/>
<rect x="1028" y="539" width="1" height="1" fill="#ff0000"/>
<rect x="1029" y="539" width="1" height="1" fill="#ff0000"/>
<rect x="1030" y="539" width="1" height="1" fill="#ff0000"/>
<rect x="1031" y="539" width="1" height="1" fill="#ff0000"/>
<rect x="1032" y="539" width="1" height="1" fill="#ff0000"/>
<rect x="1036" y="539" width="1" height="1" fill="#ff0000"/>
<rect x="1037" y="539" width="1" height="1" fill="#ff0000"/>
<rect x="1038" y="539" width="1" height="1" fill="#ff0000"/>
<rect x="1039" y="538" width="1" height="1" fill="#ff0000"/>
<rect x="1040" y="538" width="1" height="1" fill="#ff0000"/>
<rect x="1044" y="537" width="1" height="1" fill="#ff0000"/>
<rect x="1045" y="537" width="1" height="1" fill="#ff0000"/>
<rect x="1046" y="537" width="1" height="1" fill="#ff0000"/>
<rect x="1047" y="536" width="1" height="1" fill="#ff0000"/>
<rect x="1048" y="536" width="1" height="1" fill="#ff0000"/>
<rect x="1052" y="535" width="1" height="1" fill="#ff0000"/>
<rect x="1053" y="534" width="1" height="1" fill="#ff0000"/>
<rect x="1054" y="534" width="1" height="1" fill="#ff0000"/>
<rect x="1055" y="534" width="1" height="1" fill="#ff0000"/>
<rect x="1056" y="533" width="1" height="1" fill="#ff0000"/>
<rect x="1060" y="531" width="1" height="1" fill="#ff0000"/>
<rect x="1061" y="531" width="1" height="1" fill="#ff0000"/>
<rect x="1062" y="531" width="1" height="1" fill="#ff0000"/>
<rect x="1063" y="530" width="1" height="1" fill="#ff0000"/>
<rect x="1064" y="530" width="1" height="1" fill="#ff0000"/>
<rect x="1068" y="528" width="1" height="1" fill="#ff0000"/>
<rect x="1069" y="527" width="1" height="1" fill="#ff0000"/>
<rect x="1070" y="527" width="1" height="1" fill="#ff0000"/>
<rect x="1071" y="526" width="1" height="1" fill="#ff0000"/>
<rect x="1072" y="526" width="1" height="1" fill="#ff0000"/>
<rect x="1076" y="524" width="1" height="1" fill="#ff0000"/>
<rect x="1077" y="523" width="1" height="1" fill="#ff0000"/>
<rect x="1078" y="523" width="1" height="1" fill="#ff0000"/>
<rect x="1079" y="522" width="1" height="1" fill="#ff0000"/>
<rect x="1080" y="521" width="1" height="1" fill="#ff0000"/>
<rect x="1084" y="519" width="1" height="1" fill="#ff0000"/>
<rect x="1085" y="519" width="1" height="1" fill="#ff0000"/>
<rect x="1086" y="518" width="1" height="1" fill="#ff0000"/>
<rect x="1087" y="518" width="1" height="1" fill="#ff0000"/>
<rect x="1088" y="517" width="1" height="1" fill="#ff0000"/>
<rect x="1092" y="515" width="1" height="1" fill="#ff0000"/>
<rect x="1093" y="515" width="1" height="1" fill="#ff0000"/>
<rect x="1094" y="514" width="1" height="1" fill="#ff0000"/>
<rect x="1095" y="513" width="1" height="1" fill="#ff0000"/>
<rect x="1096" y="513" width="1" height="1" fill="#ff0000"/>
<rect x="1100" y="511" width="1" height="1" fill="#ff0000"/>
<rect x="1101" y="510" width="1" height="1" fill="#ff0000"/>
<rect x="1102" y="510" width="1" height="1" fill="#ff0000"/>
<rect x="1103" y="509" width="1" height="1" fill="#ff0000"/>
<rect x="1104" y="508" width="1" height="1" fill="#ff0000"/>
<rect x="1108" y="506" width="1" height="1" fill="#ff0000"/>
<rect x="1109" y="506" width="1" height="1" fill="#ff0000"/>
<rect x="1110" y="505" width="1" height="1" fill="#ff0000"/>
<rect x="1111" y="505" width="1" height="1" fill="#ff0000"/>
<rect x="1112" y="504" width="1" height="1" fill="#ff0000"/>
<rect x="1116" y="502" width="1" height="1" fill="#ff0000"/>
<rect x="1117" y="502" width="1" height="1" fill="#ff0000"/>
<rect x="1118" y="501" width="1" height="1" fill="#ff0000"/>
<rect x="1119" y="501" width="1" height="1" fill="#ff0000"/>
<rect x="1120" y="500" width="1" height="1" fill="#ff0000"/>
<rect x="1124" y="499" width="1" height="1" fill="#ff0000"/>
<rect x="1125" y="498" width="1" height="1" fill="#ff0000"/>
<rect x="1126" y="498" width="1" height="1" fill="#ff0000"/>
<rect x="1127" y="498" width="1" height="1" fill="#ff0000"/>
<rect x="1128" y="497" width="1" height="1" fill="#ff0000"/>
<rect x="1132" y="496" width="1" height="1" fill="#ff0000"/>
<rect x="1133" y="495" width="1" height="1" fill="#ff0000"/>
<rect x="1134" y="495" width="1" height="1" fill="#ff0000"/>
<rect x="1135" y="494" width="1" height="1" fill="#ff0000"/>
<rect x="1136" y="494" width="1" height="1" fill="#ff0000"/>
<rect x="1140" y="492" width="1" height="1" fill="#ff0000"/>
<rect x="1141" y="492" width="1" height="1" fill="#ff0000"/>
<rect x="1142" y="492" width="1" height="1" fill="#ff0000"/>
<rect x="1143" y="491" width="1" height="1" fill="#ff0000"/>
<rect x="1144" y="491" width="1" height="1" fill="#ff0000"/>
<rect x="1148" y="490" width="1" height="1" fill="#ff0000"/>
<rect x="1149" y="489" width="1" height="1" fill="#ff0000"/>
<rect x="1150" y="489" width="1" height="1" fill="#ff0000"/>
<rect x="1151" y="489" width="1" height="1" fill="#ff0000"/>
<rect x="1152" y="488" width="1" height="1" fill="#ff0000"/>
<rect x="1156" y="487" width="1" height="1" fill="#ff0000"/>
<rect x="1157" y="487" width="1" height="1" fill="#ff0000"/>
<rect x="1158" y="487" width="1" height="1" fill="#ff0000"/>
<rect x="1159" y="487" width="1" height="1" fill="#ff0000"/>
<rect x="1160" y="486" width="1" height="1" fill="#ff0000"/>
<rect x="1164" y="486" width="1" height="1" fill="#ff0000"/>
<rect x="1165" y="486" width="1" height="1" fill="#ff0000"/>
<rect x="1166" y="486" width="1" height="1" fill="#ff0000"/>
<rect x="1167" y="485" width="1" height="1" fill="#ff0000"/>
<rect x="1168" y="485" width="1" height="1" fill="#ff0000"/>
<rect x="1172" y="484" width="1" height="1" fill="#ff0000"/>
<rect x="1173" y="484" width="1" height="1" fill="#ff0000"/>
<rect x="1174" y="484" width="1" height="1" fill="#ff0000"/>
</g>
<g clip-path="url(#cr)">
<line x1="7" y1="613.5" x2="1193" y2="613.5" stroke="#c0c0c0" stroke-width="1" stroke-dasharray="3 3"/>
<line x1="7" y1="642.5" x2="1193" y2="642.5" stroke="#c0c0c0" stroke-width="1" stroke-dasharray="3 3"/>
<path d="M6,639h4v1h-4zM16,639h4v1h-4zM31,639h1v1h-1zM86,639h4v1h-4zM160,639h2v1h-2zM249,639h2v1h-2zM258,639h3v1h-3zM272,639h4v1h-4zM279,639h2v1h-2zM324,639h11v1h-11zM421,639h3v1h-3zM471,639h2v1h-2zM677,639h5v1h-5zM718,639h2v1h-2zM744,639h1v1h-1zM813,639h3v1h-3zM906,639h1v1h-1zM10,638h6v1h-6zM32,638h2v1h-2zM84,638h2v1h-2zM90,638h5v1h-5zM134,638h2v1h-2zM148,638h12v1h-12zM251,638h2v1h-2zM256,638h2v1h-2zM276,638h3v1h-3zM335,638h1v1h-1zM418,638h3v1h-3zM473,638h1v1h-1zM674,638h3v1h-3zM682,638h5v1h-5zM716,638h2v1h-2zM745,638h1v1h-1zM810,638h3v1h-3zM907,638h1v1h-1zM20,640h11v1h-11zM162,640h3v1h-3zM230,640h4v1h-4zM247,640h2v1h-2zM261,640h11v1h-11zM281,640h2v1h-2zM320,640h4v1h-4zM424,640h4v1h-4zM469,640h2v1h-2zM720,640h4v1h-4zM743,640h1v1h-1zM816,640h2v1h-2zM906,640h1v1h-1zM34,637h1v1h-1zM82,637h2v1h-2zM95,637h1v1h-1zM133,637h1v1h-1zM136,637h4v1h-4zM144,637h4v1h-4zM253,637h3v1h-3zM336,637h1v1h-1zM416,637h2v1h-2zM474,637h2v1h-2zM672,637h2v1h-2zM687,637h1v1h-1zM714,637h2v1h-2zM746,637h2v1h-2zM808,637h2v1h-2zM908,637h1v1h-1zM35,636h1v1h-1zM81,636h1v1h-1zM96,636h1v1h-1zM132,636h1v1h-1zM140,636h4v1h-4zM337,636h1v1h-1zM410,636h6v1h-6zM476,636h2v1h-2zM482,636h8v1h-8zM666,636h6v1h-6zM688,636h2v1h-2zM713,636h1v1h-1zM748,636h1v1h-1zM805,636h3v1h-3zM909,636h1v1h-1zM36,635h2v1h-2zM42,635h5v1h-5zM79,635h2v1h-2zM97,635h1v1h-1zM130,635h2v1h-2zM338,635h2v1h-2zM405,635h5v1h-5zM478,635h4v1h-4zM490,635h14v1h-14zM661,635h5v1h-5zM690,635h1v1h-1zM711,635h2v1h-2zM749,635h1v1h-1zM803,635h2v1h-2zM910,635h1v1h-1zM980,635h4v1h-4zM38,634h4v1h-4zM47,634h2v1h-2zM69,634h10v1h-10zM98,634h2v1h-2zM129,634h1v1h-1zM340,634h1v1h-1zM403,634h2v1h-2zM504,634h4v1h-4zM514,634h13v1h-13zM658,634h3v1h-3zM691,634h1v1h-1zM700,634h11v1h-11zM750,634h4v1h-4zM801,634h2v1h-2zM911,634h2v1h-2zM976,634h4v1h-4zM984,634h2v1h-2zM996,634h3v1h-3zM49,633h1v1h-1zM66,633h3v1h-3zM100,633h1v1h-1zM128,633h1v1h-1zM341,633h1v1h-1zM401,633h2v1h-2zM508,633h6v1h-6zM527,633h1v1h-1zM656,633h2v1h-2zM692,633h2v1h-2zM696,633h4v1h-4zM754,633h8v1h-8zM799,633h2v1h-2zM913,633h1v1h-1zM970,633h6v1h-6zM986,633h3v1h-3zM992,633h4v1h-4zM999,633h1v1h-1zM50,632h2v1h-2zM64,632h2v1h-2zM101,632h1v1h-1zM127,632h1v1h-1zM342,632h10v1h-10zM399,632h2v1h-2zM528,632h1v1h-1zM650,632h6v1h-6zM694,632h2v1h-2zM762,632h8v1h-8zM794,632h5v1h-5zM914,632h2v1h-2zM962,632h8v1h-8zM989,632h3v1h-3zM1000,632h1v1h-1zM52,631h2v1h-2zM58,631h6v1h-6zM102,631h25v1h-25zM352,631h2v1h-2zM398,631h1v1h-1zM529,631h1v1h-1zM574,631h4v1h-4zM586,631h8v1h-8zM602,631h5v1h-5zM645,631h5v1h-5zM770,631h24v1h-24zM916,631h2v1h-2zM958,631h4v1h-4zM1001,631h1v1h-1zM1034,631h5v1h-5zM54,630h4v1h-4zM354,630h3v1h-3zM396,630h2v1h-2zM530,630h1v1h-1zM573,630h1v1h-1zM578,630h8v1h-8zM594,630h8v1h-8zM607,630h2v1h-2zM642,630h3v1h-3zM918,630h4v1h-4zM930,630h13v1h-13zM956,630h2v1h-2zM1002,630h2v1h-2zM1013,630h21v1h-21zM1039,630h1v1h-1zM165,641h3v1h-3zM228,641h2v1h-2zM234,641h13v1h-13zM283,641h2v1h-2zM317,641h3v1h-3zM428,641h4v1h-4zM467,641h2v1h-2zM724,641h6v1h-6zM738,641h5v1h-5zM818,641h3v1h-3zM837,641h11v1h-11zM905,641h1v1h-1zM168,642h2v1h-2zM226,642h2v1h-2zM285,642h13v1h-13zM314,642h3v1h-3zM432,642h4v1h-4zM442,642h14v1h-14zM465,642h2v1h-2zM730,642h8v1h-8zM821,642h3v1h-3zM834,642h3v1h-3zM848,642h2v1h-2zM876,642h11v1h-11zM904,642h1v1h-1zM170,643h3v1h-3zM225,643h1v1h-1zM298,643h8v1h-8zM312,643h2v1h-2zM436,643h6v1h-6zM456,643h4v1h-4zM463,643h2v1h-2zM824,643h4v1h-4zM832,643h2v1h-2zM850,643h3v1h-3zM872,643h4v1h-4zM887,643h1v1h-1zM903,643h1v1h-1zM173,644h3v1h-3zM210,644h8v1h-8zM223,644h2v1h-2zM306,644h6v1h-6zM460,644h3v1h-3zM828,644h4v1h-4zM853,644h3v1h-3zM868,644h4v1h-4zM888,644h2v1h-2zM901,644h2v1h-2zM176,645h4v1h-4zM202,645h8v1h-8zM218,645h5v1h-5zM856,645h4v1h-4zM864,645h4v1h-4zM890,645h1v1h-1zM899,645h2v1h-2zM180,646h4v1h-4zM197,646h5v1h-5zM860,646h4v1h-4zM891,646h1v1h-1zM897,646h2v1h-2zM184,647h2v1h-2zM194,647h3v1h-3zM892,647h2v1h-2zM895,647h2v1h-2zM186,648h3v1h-3zM192,648h2v1h-2zM894,648h1v1h-1zM189,649h3v1h-3zM357,629h2v1h-2zM394,629h2v1h-2zM531,629h1v1h-1zM572,629h1v1h-1zM609,629h2v1h-2zM640,629h2v1h-2zM922,629h8v1h-8zM943,629h2v1h-2zM955,629h1v1h-1zM1004,629h1v1h-1zM1010,629h3v1h-3zM1040,629h1v1h-1zM359,628h1v1h-1zM393,628h1v1h-1zM532,628h1v1h-1zM572,628h1v1h-1zM611,628h2v1h-2zM634,628h6v1h-6zM945,628h1v1h-1zM954,628h1v1h-1zM1005,628h1v1h-1zM1008,628h2v1h-2zM1041,628h1v1h-1zM360,627h1v1h-1zM391,627h2v1h-2zM533,627h1v1h-1zM571,627h1v1h-1zM613,627h3v1h-3zM628,627h6v1h-6zM946,627h2v1h-2zM952,627h2v1h-2zM1006,627h2v1h-2zM1042,627h1v1h-1zM361,626h1v1h-1zM382,626h9v1h-9zM534,626h1v1h-1zM570,626h1v1h-1zM616,626h4v1h-4zM624,626h4v1h-4zM948,626h2v1h-2zM951,626h1v1h-1zM1043,626h1v1h-1zM362,625h2v1h-2zM380,625h2v1h-2zM535,625h2v1h-2zM569,625h1v1h-1zM620,625h4v1h-4zM950,625h1v1h-1zM1044,625h1v1h-1zM364,624h1v1h-1zM379,624h1v1h-1zM537,624h1v1h-1zM568,624h1v1h-1zM1045,624h1v1h-1zM365,623h1v1h-1zM378,623h1v1h-1zM538,623h2v1h-2zM568,623h1v1h-1zM1046,623h2v1h-2zM366,622h2v1h-2zM376,622h2v1h-2zM540,622h2v1h-2zM557,622h5v1h-5zM567,622h1v1h-1zM1048,622h2v1h-2zM368,621h4v1h-4zM375,621h1v1h-1zM542,621h2v1h-2zM554,621h3v1h-3zM562,621h5v1h-5zM1050,621h3v1h-3zM372,620h3v1h-3zM544,620h4v1h-4zM552,620h2v1h-2zM1053,620h21v1h-21zM1090,620h24v1h-24zM1150,620h4v1h-4zM548,619h4v1h-4zM1074,619h16v1h-16zM1114,619h5v1h-5zM1149,619h1v1h-1zM1154,619h21v1h-21zM1119,618h2v1h-2zM1148,618h1v1h-1zM1121,617h2v1h-2zM1147,617h1v1h-1zM1123,616h2v1h-2zM1146,616h1v1h-1zM1125,615h3v1h-3zM1145,615h1v1h-1zM1128,614h4v1h-4zM1144,614h1v1h-1zM1132,613h6v1h-6zM1143,613h1v1h-1zM1138,612h5v1h-5z" fill="#1e90ff"/>
</g>
<rect x="5.5" y="1.5" width="1188" height="470" fill="none" stroke="#000" stroke-width="1"/>
<rect x="5.5" y="473.5" width="1188" height="115" fill="none" stroke="#000" stroke-width="1"/>
<rect x="5.5" y="590.5" width="1188" height="74" fill="none" stroke="#000" stroke-width="1"/>
<rect x="1194" y="6" width="2" height="1" fill="#000"/>
<rect x="1194" y="39" width="2" height="1" fill="#000"/>
<rect x="1194" y="72" width="2" height="1" fill="#000"/>
<rect x="1194" y="105" width="2" height="1" fill="#000"/>
<rect x="1194" y="138" width="2" height="1" fill="#000"/>
<rect x="1194" y="171" width="2" height="1" fill="#000"/>
<rect x="1194" y="204" width="2" height="1" fill="#000"/>
<rect x="1194" y="237" width="2" height="1" fill="#000"/>
<rect x="1194" y="270" width="2" height="1" fill="#000"/>
<rect x="1194" y="303" width="2" height="1" fill="#000"/>
<rect x="1194" y="336" width="2" height="1" fill="#000"/>
<rect x="1194" y="369" width="2" height="1" fill="#000"/>
<rect x="1194" y="402" width="2" height="1" fill="#000"/>
<rect x="1194" y="435" width="2" height="1" fill="#000"/>
<rect x="1194" y="468" width="2" height="1" fill="#000"/>
<rect x="1194" y="475" width="1" height="1" fill="#000"/>
<rect x="1194" y="515" width="1" height="1" fill="#000"/>
<rect x="1194" y="587" width="1" height="1" fill="#000"/>
<rect x="1194" y="592" width="1" height="1" fill="#000"/>
<rect x="1194" y="663" width="1" height="1" fill="#000"/>
<rect x="6" y="665" width="1" height="3" fill="#000"/>
<rect x="70" y="665" width="1" height="3" fill="#000"/>
<rect x="134" y="665" width="1" height="3" fill="#000"/>
<rect x="198" y="665" width="1" height="3" fill="#000"/>
<rect x="262" y="665" width="1" height="3" fill="#000"/>
<rect x="326" y="665" width="1" height="3" fill="#000"/>
<rect x="390" y="665" width="1" height="3" fill="#000"/>
<rect x="454" y="665" width="1" height="3" fill="#000"/>
<rect x="518" y="665" width="1" height="3" fill="#000"/>
<rect x="582" y="665" width="1" height="3" fill="#000"/>
<rect x="646" y="665" width="1" height="3" fill="#000"/>
<rect x="710" y="665" width="1" height="3" fill="#000"/>
<rect x="774" y="665" width="1" height="3" fill="#000"/>
<rect x="838" y="665" width="1" height="3" fill="#000"/>
<rect x="902" y="665" width="1" height="3" fill="#000"/>
<rect x="966" y="665" width="1" height="3" fill="#000"/>
<rect x="1030" y="665" width="1" height="3" fill="#000"/>
<rect x="1094" y="665" width="1" height="3" fill="#000"/>
<rect x="1158" y="665" width="1" height="3" fill="#000"/>
<path d="M9,8 H16 V9 H15 V10 H14 V11 H13 V12 H12 V11 H11 V10 H10 V9 H9 Z" fill="#000"/>
<g shape-rendering="auto">
<text x="1199.00" y="10" font-size="10" textLength="32.00" lengthAdjust="spacingAndGlyphs" fill="#000" stroke="#000" stroke-width="0.2" text-rendering="geometricPrecision">1965.35</text>
<text x="1199.00" y="43" font-size="10" textLength="32.00" lengthAdjust="spacingAndGlyphs" fill="#000" stroke="#000" stroke-width="0.2" text-rendering="geometricPrecision">1952.40</text>
<text x="1199.00" y="76" font-size="10" textLength="32.00" lengthAdjust="spacingAndGlyphs" fill="#000" stroke="#000" stroke-width="0.2" text-rendering="geometricPrecision">1939.45</text>
<text x="1199.00" y="109" font-size="10" textLength="32.00" lengthAdjust="spacingAndGlyphs" fill="#000" stroke="#000" stroke-width="0.2" text-rendering="geometricPrecision">1926.50</text>
<text x="1199.00" y="142" font-size="10" textLength="32.00" lengthAdjust="spacingAndGlyphs" fill="#000" stroke="#000" stroke-width="0.2" text-rendering="geometricPrecision">1913.55</text>
<text x="1199.00" y="175" font-size="10" textLength="32.00" lengthAdjust="spacingAndGlyphs" fill="#000" stroke="#000" stroke-width="0.2" text-rendering="geometricPrecision">1900.25</text>
<text x="1199.00" y="208" font-size="10" textLength="32.00" lengthAdjust="spacingAndGlyphs" fill="#000" stroke="#000" stroke-width="0.2" text-rendering="geometricPrecision">1887.30</text>
<text x="1199.00" y="241" font-size="10" textLength="32.00" lengthAdjust="spacingAndGlyphs" fill="#000" stroke="#000" stroke-width="0.2" text-rendering="geometricPrecision">1874.35</text>
<text x="1199.00" y="274" font-size="10" textLength="32.00" lengthAdjust="spacingAndGlyphs" fill="#000" stroke="#000" stroke-width="0.2" text-rendering="geometricPrecision">1861.40</text>
<text x="1199.00" y="307" font-size="10" textLength="32.00" lengthAdjust="spacingAndGlyphs" fill="#000" stroke="#000" stroke-width="0.2" text-rendering="geometricPrecision">1848.45</text>
<text x="1199.00" y="340" font-size="10" textLength="32.00" lengthAdjust="spacingAndGlyphs" fill="#000" stroke="#000" stroke-width="0.2" text-rendering="geometricPrecision">1835.50</text>
<text x="1199.00" y="373" font-size="10" textLength="32.00" lengthAdjust="spacingAndGlyphs" fill="#000" stroke="#000" stroke-width="0.2" text-rendering="geometricPrecision">1822.20</text>
<text x="1199.00" y="406" font-size="10" textLength="32.00" lengthAdjust="spacingAndGlyphs" fill="#000" stroke="#000" stroke-width="0.2" text-rendering="geometricPrecision">1809.25</text>
<text x="1199.00" y="439" font-size="10" textLength="32.00" lengthAdjust="spacingAndGlyphs" fill="#000" stroke="#000" stroke-width="0.2" text-rendering="geometricPrecision">1796.30</text>
<text x="1199.00" y="472" font-size="10" textLength="32.00" lengthAdjust="spacingAndGlyphs" fill="#000" stroke="#000" stroke-width="0.2" text-rendering="geometricPrecision">1783.35</text>
<text x="9.00" y="486" font-size="10" textLength="67.00" lengthAdjust="spacingAndGlyphs" fill="#000" stroke="#000" stroke-width="0.2" text-rendering="geometricPrecision">MACD(12,26,9)</text>
<text x="78.00" y="486" font-size="10" textLength="24.00" lengthAdjust="spacingAndGlyphs" fill="#000" stroke="#000" stroke-width="0.2" text-rendering="geometricPrecision">7.725</text>
<text x="104.00" y="486" font-size="10" textLength="24.00" lengthAdjust="spacingAndGlyphs" fill="#000" stroke="#000" stroke-width="0.2" text-rendering="geometricPrecision">7.137</text>
<text x="9.00" y="603" font-size="10" textLength="33.00" lengthAdjust="spacingAndGlyphs" fill="#000" stroke="#000" stroke-width="0.2" text-rendering="geometricPrecision">RSI(14)</text>
<text x="45.00" y="603" font-size="10" textLength="33.00" lengthAdjust="spacingAndGlyphs" fill="#000" stroke="#000" stroke-width="0.2" text-rendering="geometricPrecision">61.6931</text>
<text x="1197.00" y="484" font-size="10" textLength="23.00" lengthAdjust="spacingAndGlyphs" fill="#000" stroke="#000" stroke-width="0.2" text-rendering="geometricPrecision">9.439</text>
<text x="1197.00" y="519" font-size="10" textLength="17.00" lengthAdjust="spacingAndGlyphs" fill="#000" stroke="#000" stroke-width="0.2" text-rendering="geometricPrecision">0.00</text>
<text x="1197.00" y="585" font-size="10" textLength="31.00" lengthAdjust="spacingAndGlyphs" fill="#000" stroke="#000" stroke-width="0.2" text-rendering="geometricPrecision">-17.075</text>
<text x="1197.00" y="601" font-size="10" textLength="15.00" lengthAdjust="spacingAndGlyphs" fill="#000" stroke="#000" stroke-width="0.2" text-rendering="geometricPrecision">100</text>
<text x="1196.00" y="617" font-size="10" textLength="10.00" lengthAdjust="spacingAndGlyphs" fill="#000" stroke="#000" stroke-width="0.2" text-rendering="geometricPrecision">70</text>
<text x="1196.00" y="646" font-size="10" textLength="10.00" lengthAdjust="spacingAndGlyphs" fill="#000" stroke="#000" stroke-width="0.2" text-rendering="geometricPrecision">30</text>
<text x="1197.00" y="661" font-size="10" textLength="4.00" lengthAdjust="spacingAndGlyphs" fill="#000" stroke="#000" stroke-width="0.2" text-rendering="geometricPrecision">0</text>
<text x="5.00" y="677" font-size="10" textLength="50.00" lengthAdjust="spacingAndGlyphs" fill="#000" stroke="#000" stroke-width="0.2" text-rendering="geometricPrecision">19 Apr 2022</text>
<text x="69.00" y="677" font-size="10" textLength="53.00" lengthAdjust="spacingAndGlyphs" fill="#000" stroke="#000" stroke-width="0.2" text-rendering="geometricPrecision">21 Apr 00:00</text>
<text x="133.00" y="677" font-size="10" textLength="53.00" lengthAdjust="spacingAndGlyphs" fill="#000" stroke="#000" stroke-width="0.2" text-rendering="geometricPrecision">22 Apr 08:00</text>
<text x="197.00" y="677" font-size="10" textLength="53.00" lengthAdjust="spacingAndGlyphs" fill="#000" stroke="#000" stroke-width="0.2" text-rendering="geometricPrecision">25 Apr 16:00</text>
<text x="261.00" y="677" font-size="10" textLength="53.00" lengthAdjust="spacingAndGlyphs" fill="#000" stroke="#000" stroke-width="0.2" text-rendering="geometricPrecision">27 Apr 00:00</text>
<text x="325.00" y="677" font-size="10" textLength="53.00" lengthAdjust="spacingAndGlyphs" fill="#000" stroke="#000" stroke-width="0.2" text-rendering="geometricPrecision">28 Apr 08:00</text>
<text x="389.00" y="677" font-size="10" textLength="53.00" lengthAdjust="spacingAndGlyphs" fill="#000" stroke="#000" stroke-width="0.2" text-rendering="geometricPrecision">29 Apr 16:00</text>
<text x="453.00" y="677" font-size="10" textLength="52.00" lengthAdjust="spacingAndGlyphs" fill="#000" stroke="#000" stroke-width="0.2" text-rendering="geometricPrecision">3 May 00:00</text>
<text x="517.00" y="677" font-size="10" textLength="52.00" lengthAdjust="spacingAndGlyphs" fill="#000" stroke="#000" stroke-width="0.2" text-rendering="geometricPrecision">4 May 08:00</text>
<text x="581.00" y="677" font-size="10" textLength="52.00" lengthAdjust="spacingAndGlyphs" fill="#000" stroke="#000" stroke-width="0.2" text-rendering="geometricPrecision">5 May 16:00</text>
<text x="645.00" y="677" font-size="10" textLength="52.00" lengthAdjust="spacingAndGlyphs" fill="#000" stroke="#000" stroke-width="0.2" text-rendering="geometricPrecision">9 May 00:00</text>
<text x="709.00" y="677" font-size="10" textLength="58.00" lengthAdjust="spacingAndGlyphs" fill="#000" stroke="#000" stroke-width="0.2" text-rendering="geometricPrecision">10 May 08:00</text>
<text x="773.00" y="677" font-size="10" textLength="58.00" lengthAdjust="spacingAndGlyphs" fill="#000" stroke="#000" stroke-width="0.2" text-rendering="geometricPrecision">11 May 16:00</text>
<text x="837.00" y="677" font-size="10" textLength="58.00" lengthAdjust="spacingAndGlyphs" fill="#000" stroke="#000" stroke-width="0.2" text-rendering="geometricPrecision">13 May 00:00</text>
<text x="901.00" y="677" font-size="10" textLength="58.00" lengthAdjust="spacingAndGlyphs" fill="#000" stroke="#000" stroke-width="0.2" text-rendering="geometricPrecision">16 May 08:00</text>
<text x="965.00" y="677" font-size="10" textLength="58.00" lengthAdjust="spacingAndGlyphs" fill="#000" stroke="#000" stroke-width="0.2" text-rendering="geometricPrecision">17 May 16:00</text>
<text x="1029.00" y="677" font-size="10" textLength="58.00" lengthAdjust="spacingAndGlyphs" fill="#000" stroke="#000" stroke-width="0.2" text-rendering="geometricPrecision">19 May 00:00</text>
<text x="1093.00" y="677" font-size="10" textLength="57.00" lengthAdjust="spacingAndGlyphs" fill="#000" stroke="#000" stroke-width="0.2" text-rendering="geometricPrecision">20 May 08:00</text>
<text x="1157.00" y="677" font-size="10" textLength="57.00" lengthAdjust="spacingAndGlyphs" fill="#000" stroke="#000" stroke-width="0.2" text-rendering="geometricPrecision">23 May 16:00</text>
</g>
<rect x="1196" y="191" width="39" height="11" fill="#ff0000"/>
<rect x="1196" y="255" width="39" height="11" fill="#ff0000"/>
<rect x="1196" y="284" width="39" height="11" fill="#000000"/>
<rect x="1196" y="318" width="39" height="11" fill="#00cc00"/>
<rect x="1196" y="382" width="39" height="11" fill="#4055e6"/>
<g shape-rendering="auto">
<text x="1199.00" y="200" font-size="10" textLength="32.00" lengthAdjust="spacingAndGlyphs" fill="#fff" stroke="#fff" stroke-width="0.2" text-rendering="geometricPrecision">1890.00</text>
<text x="1199.00" y="264" font-size="10" textLength="32.00" lengthAdjust="spacingAndGlyphs" fill="#fff" stroke="#fff" stroke-width="0.2" text-rendering="geometricPrecision">1865.00</text>
<text x="1199.00" y="293" font-size="10" textLength="32.00" lengthAdjust="spacingAndGlyphs" fill="#fff" stroke="#fff" stroke-width="0.2" text-rendering="geometricPrecision">1853.76</text>
<text x="1199.00" y="327" font-size="10" textLength="32.00" lengthAdjust="spacingAndGlyphs" fill="#fff" stroke="#fff" stroke-width="0.2" text-rendering="geometricPrecision">1840.00</text>
<text x="1199.00" y="391" font-size="10" textLength="32.00" lengthAdjust="spacingAndGlyphs" fill="#fff" stroke="#fff" stroke-width="0.2" text-rendering="geometricPrecision">1815.00</text>
</g>
</svg></body></html>
